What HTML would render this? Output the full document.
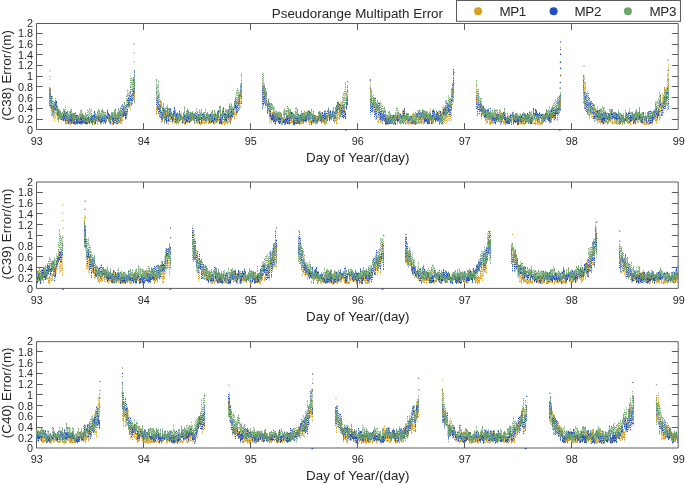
<!DOCTYPE html>
<html lang="en"><head><meta charset="utf-8"><title>Pseudorange Multipath Error</title>
<style>html,body{margin:0;padding:0;background:#fff}svg{display:block;will-change:transform}</style></head>
<body>
<svg width="685" height="485" viewBox="0 0 685 485">
<rect width="685" height="485" fill="#fff"/>
<path d="M36.5 23.5H678.2V129.5H36.5ZM36.5 119.5h6.4M678.2 119.5h-6.4M36.5 108.5h6.4M678.2 108.5h-6.4M36.5 97.5h6.4M678.2 97.5h-6.4M36.5 86.5h6.4M678.2 86.5h-6.4M36.5 76.5h6.4M678.2 76.5h-6.4M36.5 65.5h6.4M678.2 65.5h-6.4M36.5 54.5h6.4M678.2 54.5h-6.4M36.5 44.5h6.4M678.2 44.5h-6.4M36.5 33.5h6.4M678.2 33.5h-6.4M143.5 23.5v6.4M143.5 129.5v-6.4M250.5 23.5v6.4M250.5 129.5v-6.4M357.5 23.5v6.4M357.5 129.5v-6.4M464.5 23.5v6.4M464.5 129.5v-6.4M571.5 23.5v6.4M571.5 129.5v-6.4" fill="none" stroke="#5c5c5c" stroke-width="1"/>
<g fill="none" stroke-linecap="round" stroke-linejoin="round" stroke-width="1.3">
<path stroke="#d9a01f" stroke-linecap="butt" stroke-width="1.0" stroke-dasharray="2 .4 1.2 .5 2.7 .4 1.6 .5" d="M57.5 119.9v-9.1m1 3.2v8.6m1-3.8v-7.4m1 1v7.6m1-1.1v-5.2m1 2.7v5.2m1-.7v-6.8m1-1.8v7m1 4.9v-7.9m1 1.1v6.9m1-.3v-1.9m1-2.1v4.2m1 .1v-4.3m1-2v6.7m1-.3v-5.7m1-3.1v8.2m1 .2v-9.5m1 .1v10m1 0v-3.8m1-3.7v7m1 .2v-6.4m1-2v6.5m1 1.6v-5.5m1-1.6v7.4m1-.3v-7.9m1-.1v8.1m1-1.4v-8m1 4.8v4.6m1-.5v-6.4m1-.7v3.5m1 2.1v-4m1-1.5v6.5m1-1.6v-3.1m1 .5v4m1 .9v-2.9m1-2.4v5.4m1-3.8v-4.7m1 4v5.6m1-2.1v-8m1 3.6v2.9m1 3.2v-5m1-4v6.3m1-.3v-5.2m1 3.1v5.1m1-1v-5.6m1-2.3v5.6m1 2.5v-5.9m1-1v4.9m1 1v-4.4m1-1v3.5m1-2.1v-4.4m1 3.8v3.1m1 1.9v-6.7m1 .3v7.1m2 .9v-6.4m1-1.8v7.7m1-1.2v-7.1m1-2.6v6.6m1-1.2v-5m1 4.2v5.1m1 .3v-7m1-3.3v5.6m1 4.6v-6m1-1.9v9m1-3.5v-9.9m1-4.3v8.3m1 .5v-5.8m1 1.5v8.5m1-3.3v-5.5m1-1.5v6.2m1-8v-6m1-.3v7m27 6.6v-9.1m3-.6v7.6m1-4.9v-8.4m1 11.5v9.7m1 1v-8.9m1-4.3v6.7m1 2v-8.1m1 1.2v5m1 3.9v-8.1m1 4.4v7.6m2-1.8v-8.2m1 .5v8.4m3 .1v-5.2m1 1.3v5.5m1-4.4v-4.6m1 .1v6.8m1 1.5v-7.2m1 1.7v7m1-2.7v-4.3m1-2.9v6.4m2 2.6v-7.8m1-1.4v9.5m1 .8v-5.1m1 .7v4.6m1-2.3v-4.5m1 1.7v4.3m1-1.6v-5.8m1-1.4v4.7m1-.1v-7.5m1 .1v9.4m1-2v-7.6m1 .5v7.1m3 2.5v-6.9m1 2v6.4m1-1.3v-7.6m1 1.6v5.2m1 3.3v-3.8m1-3.8v5.9m1-.1v-6.2m1 1.8v4.6m1 .5v-2.6m1-1.2v3.2m1 0v-5.4m1-1.1v4.6m1 2.4v-6.4m1-3.1v7.2m1 2v-3.9m1-1.9v4.7m1-3.4v-5.9m1 2.6v6.9m1 1.8v-9m1-1.4v8m1 .4v-5.2m1-1.2v6.3m1-1.3v-4.3m1-.7v4.2m1 4.2v-4.3m1-.2v4.4m1-.1v-4.5m1 1.2v2.7m1 1.4v-4.7m1-.5v3.9m1-.7v-6.1m1-.1v7.8m1-2.1v-6.4m1-3.3v9.1m1 2.2v-8.4m1-2v7.2m3-2.1v-7.9m2-4.3v9.7m31-6.7v-8.4m5 10.4v9.2m1 .4v-9.6m1 3.8v8.3m2-2.1v-8.6m1-.7v7.9m1 0v-7.2m2 .9v9.3m1 1.4v-8.2m1 2.9v4.2m1-3.7v-3.3m1 .2v4.9m1 .9v-4.8m1 1.6v4.5m1 0v-7.2m2-.8v8.9m1-1.1v-5m1-5.2v7.8m1 1.6v-6.8m2 2.2v5.6m1 0v-6.2m1-1.8v8.4m1-1.3v-5.6m1 1.4v5.4m1-.5v-4.9m1-.3v5.8m1-.3v-4.4m1-3.2v7.4m1 .1v-7.2m1-6.3v8.6m1 3.5v-5.7m1 1.5v4.6m1-2.6v-6.5m1 1.6v7.3m1 2.3v-4.2m1-1.2v4.5m1-1.1v-7.6m1 1.9v5.8m1 .6v-6.4m1-2.2v5.5m1 1.1v-7.3m1 1.1v6m1-.2v-4.6m1-.7v5.7m1-.4v-5.7m1-1v7.1m1 2.2v-8.2m1-.6v7.9m1-.5v-5.8m1 1.1v7m1-.4v-6.1m1-3.5v6.7m1-1.8v-5.3m1-1.2v4.8m1 3.4v-5.5m1-.5v4.7m1-.9v-6.5m1 .3v4.8m1 1.9v-2.8m1-1.4v4.6m1 1.4v-8.4m1 4.4v6.7m1-4v-9.6m2-.6v9.8m32-19.9v-9.7m8 21.1v9.4m1 1.7v-8.4m1 .8v7.4m1-1v-5.7m1-2.6v6.4m1 1.5v-5.6m1 .5v7.7m1 1.4v-6.5m1 1.9v3.9m1-4.6v-3.7m1-1.1v4.2m1 3.2v-5.2m1-2.1v6.6m1 2.2v-4.3m1-5.2v7m1 .6v-4.6m1-2.5v5.5m1 .7v-5.8m1 3.2v5.7m1-2.1v-6.5m1 5.6v3m1 .5v-4.5m1-3.7v5.1m1-7v-4.7m1 2.7v7m1 2.8v-6.9m1 3.6v6m2-.7v-5.7m1 .5v5.5m1-.9v-5.3m1 2.6v3.5m1-4.8v-4.6m1-1.4v7.3m1 1.1v-5.3m1 2v5.9m1-.4v-4.8m1 3.1v1.4m1 .4v-5.4m1-1.7v6.1m1 .9v-6.5m1-.8v6.1m1 1.2v-5.2m1-.7v4.4m1 1.6v-7.7m1-.5v7.9m1-3.2v-9.1m1 0v7.8m1 2.5v-7.9m1 .7v8.5m1-2.6v-9.7m2 4v8.7m1 .4v-8.6m1-.6v8.9m1-3.9v-4.2m1 3.1v4.3m1-2.5v-3.9m1-.8v6.3m1-4.2v-7.2m1-.3v7.1m2 3.9v-8.9m39-10.7v9.3m3 5v-6.4m1-1.3v8.2m1 4.2v-8.4m1 6v5.3m1-.9v-7.3m1 .9v3.8m1 4.2v-5.9m1-.7v7m2-1v-8.2m1 3.9v4.7m1-5.6v-4.6m1-1.5v4.8m1 2.9v-5.4m1-3v6.4m1-.6v-4.5m1 3.8v5.2m1-4.8v-6.8m1 5.8v5.6m1-.2v-6.7m1 5.7v4.3m1-1.3v-6.3m1 1.1v6.4m1-1.2v-5.6m1-1.2v4.1m1 2.7v-8.4m1 3.3v3.8m1-3.9v-3.8m1 4.2v3.9m1-2.5v-3.1m1 1.2v5.6m1-2.5v-3.9m1-2.1v6.1m1 .8v-9.4m1 1.9v8.7m1 1.5v-9.3m2-.3v8.6m1 .1v-6.9m1-.1v7.4m1-.5v-5.8m1 .2v6.7m1-1.4v-6.1m1-.8v5.6m1-.5v-6.2m1 1.7v5.1m1-.5v-6.9m1 3.6v5m1 0v-1.1m1-3v3.8m1 .5v-1.3m1-.8v2.5m1 .4v-5.1m2-3.4v8.8m1-.8v-7.8m1-.3v8m1 .9v-4.1m1 1.2v2.7m1-.8v-8.5m1-2.1v7.9m1-1.1v-5.8m1-1.7v2.7m1 2.3v-4.7m1 .2v6.5m1 .5v-5.6m1-1.7v6.6m1 2.1v-7.5m1 2.7v5.6m1-5.4v-9.4m1 7.1v4.6m1-1.6v-5.9m1-2.8v7.1m1-3.9v-5.7m1 2.4v4.6m2-3.5v-9.1m30 8.4v9.9m1-4.8v-9.9m6 9.8v5.8m1 3.4v-6.6m1-2.7v7.2m1 1.2v-9.1m1 4.9v5.5m1-1.5v-6.1m1 1.2v6.1m1-3.4v-8.6m1 7.2v4.9m1-.8v-3.4m1-2.5v5.2m1 2.4v-4.2m1-5.6v7.6m1-.9v-6.7m1 .2v7.2m2 2.1v-5.3m1 3.2v1.4m1-.2v-6.3m1-.1v6.1m1 .6v-9.4m1 4.1v6.1m1-.5v-9m1 0v5.6m1 2v-2.4m1 .2v2.4m1 1.8v-3m1-3.7v5.3m1-.1v-4.7m1-9v9m1 3v-8m1 2.5v7.9m1 .2v-5.8m1-1.5v5.4m1 2.6v-7.3m1-2.3v6.3m1-.7v-6.1m1 .3v8m1 .7v-8m2-4.5v9.7m1 2.1v-9m1-.5v9m2-.4v-6.6m1 .9v5.2m1 2.6v-5.1m1-2.6v7.6m1 1.1v-8.2m2 1.8v5.9m1-.5v-4.1m1 .2v4.8m1-.3v-5.6m1-4.3v9.5m1-.9v-7.7m1 .9v7.8m1-3.9v-5.1m1-3.7v5.8m1 3.8v-6.8m1-.2v9.2m1-3v-9m1-4.1v9.1m1 3.8v-9.4"/>
<path stroke="#d9a01f" stroke-linecap="butt" stroke-width="1.0" stroke-dasharray="1.2 .9 .8 1.3 1.6 .8 .9 1.5 1.1 1" d="M49.5 102.9v-14.7m1 2.3v12.8m1 8.1v-12.6m1 7.2v10.9m1 0v-13.2m1 5.2v11.8m1-2.8v-10.6m1-2.4v11.4m55 7.6v-10.6m19-14.7v11.8m1-4.4v-10.4m1-1.7v10.7m1-4.8v-15.8m1-.9v20.5m23 7.3v-10.6m1 2v10.7m10 11.6v-10.6m3-1.7v10.9m1 .6v-10.9m9-.4v10m13 1.7v-10.6m1-.6v10.5m37-6.2v-11.1m1 .3v10.7m2-1.9v-11.5m2-3.5v13.5m1-8.9v-11.6m1-1.8v19m1-2.6v-18.3m1-14.4v22.8m21 4v-19.7m1 2.6v19m1-6.6v-14.8m1 11.4v14.4m1-5v-12.2m2 8.4v13.6m1 10.4v-14.4m1-1.8v15.2m1 .4v-10.1m4-2.4v11.2m4 .6v-11.1m9 .7v12.9m5 .4v-11.4m45-5.9v11.2m2-3.3v-14.1m1 3.3v13.5m1-1.6v-10.6m1-6.1v17.2m1-2v-11.8m1-5.6v10.6m1-3.9v-12m1-7.1v11.7m23 .3v-18.3m2 22.3v12.1m1-6.5v-12.8m1 6.2v13.4m1 5.8v-10.4m1-3v13.6m1 2.3v-14.8m1 3.3v12.7m28 .1v-10.4m24-4.5v12.7m10 .4v-11.2m2-3.4v13.1m1-1.1v-14.5m1 4v15.2m1-3v-12.1m1-.2v15.8m1-2.5v-13.7m1 1.2v10.7m1 1.1v-13.2m1-3v13.8m1 1.8v-21.2m1-11.3v16.9m1-6.7v-21m23 11.3v16.6m1-2.3v-13.1m1 4.4v12.5m1 5.3v-11.2m2 2.8v12.3m1-.4v-10.4m9 8.4v10.6m28 .3v-10.8m17-.1v10.6m22-10.2v-10.8m2-5.7v12.8m23-14.1v-17.1m1-1.8v23.3m1 5.8v-15.3m1 2.1v13.2m1 8.4v-10.7m1 .8v11.5m3 1.4v-10.6m1 .1v11.6m1-1v-12.8m1 3.1v10.9m1 1.8v-13m16 5.2v11m24 .5v-11.5m4-2.3v10.4m6 3.8v-12.5m15-6.1v12.2m1-2.8v-13.6m1-8.6v13.6m1 6.5v-18.5m1-6.9v21.1m1-2.2v-17.4m1-2.1v17.1m1-12.6v-19.3m1-9.2v26.9"/>
<path stroke="#d9a01f" d="M49.8 70.9h0m.1 8.4h0m.2 9.1h0m510.1-6.2h0m0 6.1h0m0 7h0m.2-41.7h0m0 7.9h0m0 6.5h0m.1 6.8h0m.1-27.6h0"/>
<path stroke="#1d4fc2" stroke-linecap="butt" stroke-width="1.0" stroke-dasharray="2 .4 1.2 .5 2.7 .4 1.6 .5" d="M53.5 111.5v-7.2m1-2.2v8.4m1-.2v-10m1 .7v8.1m1 6.4v-8.2m1 2.1v7.6m1 .7v-7.3m1 4.5v4.4m1 .8v-3.3m1-1.2v3.2m1 2.1v-7.6m1-2.8v9.9m1 1.1v-9m1-.7v8.5m2 3.4v-9.7m1 2.3v5.6m1-.5v-7.4m1 .5v8.6m1-.6v-9.5m1 1.4v9.6m1 .2v-9.4m2 .1v9.5m1-.6v-9.3m1 2.9v5.9m1 .7v-4.7m1-2.7v7.6m1 .3v-9.7m1-.5v9.1m1-.1v-7.5m1 2.3v5.3m1 .9v-6.2m1-.3v6.2m1 .3v-6.5m1-.8v5.2m1 1.6v-4.9m1-1.1v4.1m1 .5v-6.8m1-.2v8.2m1-1.7v-7.3m1-3.6v8.7m1 4.2v-7.9m1 .2v4.9m1-1.7v-3m1 .2v4.6m1 .2v-5.2m1 .9v6.4m1-1v-4.4m1-2.6v6.4m1-1.1v-4.8m1-.7v6.9m1 1.7v-5.5m1-2.8v4.8m1-1.5v-9.6m1 3.5v4.9m1 2.6v-5.9m1 4.9v5.1m1-5v-4.3m1-2.5v8.2m1 3.8v-9.1m3 .3v7.9m7-6.8v-10m1 2.3v6.5m1 3.2v-7.7m3-13.5v9.1m37 13.7v-8.2m1 3.1v8.5m1-6.9v-9.5m1 7.3v7m1-5.3v-8m1-.3v8.2m1 2.7v-7.3m1 2.6v7.4m1-2.1v-8.9m1-3.6v8.5m1 7v-8.3m1-.9v9.5m1-3.1v-7.6m1 1.9v5.5m1-3.5v-5.4m1 4.1v4.6m1-.4v-3.8m1 2.2v5.6m1-5.2v-3.9m1 1.2v5m1 3.8v-7.2m1-2.3v7.5m1 .1v-9.1m1-2.4v9.6m1 2.7v-8.9m1 .2v7.9m1-3v-4.3m1-1.4v3m1 2.4v-3.8m1-1.3v5.1m1 .1v-3.7m1 .5v5.6m1-.6v-5.1m1-1.5v7.3m1 2.6v-7.7m1-2.9v6.6m1 3.5v-6.5m1-3.3v5.5m1 .7v-6.3m1 1.9v4.8m1 1.1v-5.4m1-1.1v5.8m1-1.5v-7.1m1 2v5.2m1 3.7v-8.2m1-1.1v5.8m1 3.6v-7.5m1-.3v6.9m1 1.6v-4.9m1-5v6.5m1 .1v-6.7m1 2.7v4.6m1-.1v-9.6m1-1.1v7.6m1 6.1v-5.3m1-4.4v8.8m1 .7v-6.2m1-6.4v8.6m1-3.7v-8.9m1 5.7v7.4m1 .3v-7.4m1 1.1v7.3m1-4.6v-5.2m1-2.3v8.9m3-1.4v-9.1m1 3.8v5.7m1-2.4v-6m1-4.8v5.4m1-1.5v-9.3m4-4.9v9.5m28 10.2v-9.5m3 6.4v7.6m1 1.9v-4.8m1-1.2v6.1m1 2.2v-9.7m1-.1v8.9m1 3v-8.3m1-1.1v5.8m1-1.1v-6.6m1 3.3v6.4m1 1.2v-6.9m1 1.1v5m1-4.3v-5.3m1 6.4v4.5m1-1.4v-3.8m1 .3v5.1m1-.2v-6.1m1-4v7.8m1 2v-8.6m2-1.3v10m1-5.7v-7.4m1 .8v6.2m1 .8v-5.6m1 1.9v9.8m1 .1v-8.8m3 1.1v6.2m1-.5v-9.4m1 2.9v7.7m1-2.8v-7.7m1 .5v6.2m1 .9v-8.5m1 1.7v7.2m1-.6v-5.6m1-.1v5.9m1-.6v-7m1-.7v5.1m1 1.3v-9m1 .3v7.5m1 .3v-6.5m1 9.2v3.8m1-3.9v-5.4m1-.5v6.7m1-.9v-6.2m1 2.1v3.2m1 3.3v-3.8m1-.5v4.4m1-3.8v-4.2m1-4v7.1m1 2.2v-7.5m1 3.1v5.3m1-3.3v-6.4m1 2.5v6.7m1-1.7v-8.8m1 2.3v6m3-3.7v-7.9m1 6.8v6m1-3.1v-7.1m1 4.7v4.4m1-2.3v-6.2m4-5.8v9.4m1-3.7v-8.9m1 .4v6.9m1 3.2v-8.5m2 3.5v7m4 4.8v-7.7m1-9.6v7.8m1-4.6v-7.9m25 6.3v8.2m8 8.1v-9m3 .1v9.7m2 4.1v-8.7m1 2.2v5.9m1 .3v-6.7m1 1.5v5.3m1-.6v-7.4m1-1.1v8.5m1 .3v-7.2m1 0v5.8m1-1.7v-5.8m1 .8v8.1m1 .7v-5.7m1-2v3.3m1 1v-6.7m1 4.2v2.5m1-1.7v-5.3m1-.6v4.5m1 .9v-4.2m1 2.1v5.6m1-6.1v-6.1m1-2.2v8.4m1 4v-5.7m1-1.4v6.2m1-.7v-5.5m1 4.2v4.6m1-1.7v-4.6m1 .2v4.2m1 3.8v-7.8m1 1.7v5.6m1-.1v-3m1-1.1v2.7m1 2.3v-3.6m1-7.7v4.7m1-.7v-3.9m1-1.1v4.3m1 3.2v-7m1-.3v6.1m1-2v-4.5m1-.6v5.3m1 .7v-7.2m1 4.1v8.3m1-.9v-9m1 2v7.6m1 1.8v-6.9m1 1.6v5m1 .2v-9m1-2.1v6.9m1 4v-6.9m1-6.5v9.1m1-3v-7.8m1 2.4v9.1m1 1.4v-6.5m1-1.8v7.1m1-1.7v-7.2m1 2.5v7.6m1 2.8v-7.8m1-5.7v9.4m3-4.7v-7.1m1-1.1v8.4m1-.8v-9.6m3-1.8v8.7m34 1.2v-6.6m1-1.1v8.2m1 3.6v-8.8m1 1.3v7.5m1-2v-5.4m1-.7v5.7m1 1.3v-8.2m1 3.7v7.2m2-1.4v-4.7m1 2.2v5.3m1-.3v-4.8m1 2v5.2m1 1.2v-6.7m1-2.7v7.2m1-1.6v-6.2m1 .2v7.3m4-1.9v-6.2m1-1.2v7.1m1 .9v-8m1 4.3v5.9m1 .6v-3.6m1-3.3v8.1m1-.4v-5.8m1 0v6m1-2.1v-8.1m2-1.4v5m1 7v-8.8m1-.4v6.9m1 .8v-6.3m1-3.1v8.4m1 3.2v-7.3m1-2.2v8.4m1-2.1v-5.9m1 .7v5.4m1 .2v-7.5m1-1.2v4.1m1 3.5v-3.9m1-3.4v5.6m1 3.6v-9.5m1 1.6v7.1m1-3v-6.4m1 3.1v7.9m2 .3v-6.8m1-.1v6.9m1-2.7v-4.5m1-8.8v6.5m1 4.5v-6m1-4.1v7.6m1 .8v-7.7m1 3.3v8.1m1-1.3v-5.7m1-1.8v4.4m1 1.6v-3.7m1-.6v5.2m1-1.6v-4.2m1 3.8v5.1m1-1.2v-4.9m1-3.1v6.5m1-1.2v-8.9m1 3.4v7m1 1.2v-7.1m1-1.4v9.9m2-6v-8.4m2-.5v9.7m2 1.4v-10m1-3.4v8.9m34-3.2v-9.8m6 9v6.5m1 .3v-6.5m1-.3v9.7m1-2v-8.4m1 4.7v5m1 3v-9.7m1 1.3v8.5m1 1.7v-7.8m1-4v9.4m1-2.8v-7.7m1 2v5.9m1 .7v-4.3m1-2.4v5.7m1 1.5v-6m1-2.3v6.6m1-3.6v-5.4m1 3.8v5.6m1-.9v-5.8m1 .2v6.8m1-.1v-7.1m1 1.1v7.4m1-1v-5.4m1-1.4v6.1m1 4.6v-9.3m1 4.1v5.5m1-3.6v-5.8m1 2.8v4.8m1-.3v-5.7m1 2.8v5.2m1-3.1v-4.5m1-3.7v7.4m1-2.3v-3.8m1-1.5v7.2m2 2.3v-6.9m1 .9v5.1m1-1.8v-7.5m1 5.6v6.5m1-2.2v-7.4m1 3.8v5.2m1-3.1v-7.1m1 .2v6m1 .1v-5.1m1-2.3v7.8m1 .8v-5.7m1 2.5v5.6m1-.4v-6.2m1-4.2v5m1 3v-4.3m1 .3v4.5m1 2.4v-6.1m1-4.5v5.4m1 3.2v-9.9m4 2.9v8.2m1-3.4v-8m1-1.2v9.7m2-4.7v-7.7m1 4.6v7.1m1-2.6v-7.1m8-17v9.4"/>
<path stroke="#1d4fc2" stroke-linecap="butt" stroke-width="1.0" stroke-dasharray="1.2 .9 .8 1.3 1.6 .8 .9 1.5 1.1 1" d="M49.5 105.9v-18.2m1 1.4v18.5m1 .5v-12.7m1 7.2v12.1m15 6.6v-10.2m8 1.4v11.6m39-1.4v-11.7m1 2.4v10.4m2 .3v-11.5m1-3.9v12.2m1 1.7v-11.8m1-.6v10.6m1-5.1v-10.2m1-1.2v11.1m4 3.1v-14.4m1-4.1v11.9m2-6.7v-10.7m1-7.6v15.5m1 2.4v-11.3m1-4.6v13.2m1-5.9v-19.7m1-6.3v23.7m22 11.1v-15m1 6v13.6m1 4.2v-18.8m1 9.3v13.4m1-.2v-12.4m1 7.1v10.1m1-2.8v-13.2m1-2.9v15.6m1 3.6v-15.1m65-.8v11.4m1 4.3v-10.9m6-10.1v13.3m1-2.3v-10.9m1-2.8v11.9m2-14.5v-10.6m1 6.1v12.6m21 4.5v-23.2m1 2.2v18.4m1-2.7v-16m1 1.1v16.3m1 .8v-12.4m2 5.9v10.4m1 6.3v-12.5m19 10v10.6m7-.7v-11.8m1 2.5v10.1m30-1v-10.1m1-2.2v10.3m6 .1v-10m1 .6v11.7m1-5.2v-10.7m5-2.7v10.6m2 1.9v-13.7m1 2.5v12.9m1-2.2v-11.1m26-6.8v15.8m1-2.8v-12.8m2-1.4v11.1m1 8.3v-17.3m1-2v17.6m1 3.2v-15.7m1-2.4v10m1 4.7v-13.2m1 1.1v10.2m2 5.1v-11.2m1 6.5v10.1m2-2.4v-10.9m57 3.5v10.5m1-1.5v-11.5m4-10.9v13.4m1-1.2v-10.9m2 3.2v10.6m1-.7v-14.5m1-5v14.5m1-8.6v-18m1-14.4v24.5m23 15.5v-15.4m1 8.5v14.1m1-6.1v-15.8m1 9.9v10.2m1-2.8v-10.4m1 3.6v13.7m9-.3v-10.3m9 1.8v11.8m1 3.1v-10.7m1-1v10.4m10 1.5v-10.4m18-2.8v11.6m21-.6v-13.1m2-1.5v10.6m2 1.7v-10.4m3-1.7v12.2m1-5.8v-15.4m1-2.9v16.4m1-2.1v-16.8m23-18.2v18.1m1 14.9v-16.9m1 .5v18.3m1 1.5v-18.3m1 6.6v13.8m1-4.7v-16.1m1 4.6v11.4m2 4.2v-12.3m1 1.9v11.2m1 4.5v-10.8m1 3.6v10.8m1-3.5v-10.5m34 4.5v10.2m20 .4v-12.3m1-.2v12.7m1-.5v-11.4m4-4.8v10.4m4-5.6v-10.5m1-6.3v10.7m1 9.7v-12m1 2v10.5m1-7.8v-11m1-.2v11.9m1-.3v-11.8m2-9.1v10.7m1 10.5v-20.6"/>
<path stroke="#1d4fc2" d="M156.5 80h0m.1 8.2h0m84.9-14.1h0m.2 9.7h0m103.8 46.1h0m.7 .1h0m1.3-48.4h0m.1 9.4h0m22.7-11h0m.1 8.2h0m83.5-4.5h0m.1-11.2h0m105.4 57.4h0m.7 .1h0m.1-42h0m.1 7h0m.1-12.4h0m0-20.2h0m.1 13.3h0m.1-26.4h0m0 5.2h0m0 13.9h0m0-26.5h0m107.5 18.2h0m0 19.5h0m.1-9.2h0"/>
<path stroke="#6da56c" stroke-linecap="butt" stroke-width="1.0" stroke-dasharray="2 .4 1.2 .5 2.7 .4 1.6 .5" d="M57.5 112.5v-7m1 4.7v9.6m1-2v-8.5m1 1.7v8.2m1 0v-6.3m1-.9v5.7m1-3.1v-5.8m1 .7v7.2m2 3.4v-7.1m1-1.5v8.5m1 .5v-6.7m1-2.7v6.5m1 .9v-8.4m1-1.5v6.4m1 7.1v-9.2m1 0v7.5m1-.9v-6.7m1 2.2v4.7m1-.1v-2.5m1-.6v2.6m1 2v-4.6m1-2.7v5.3m1-3.2v-5.4m1-.9v7.5m1 2.7v-7.3m1 2.2v6m1 2.1v-7.6m1-2.7v7.1m1 2v-7.3m7 1.6v6.8m1 1.4v-5.5m1-5.4v6.6m1 .2v-5.2m1-3.2v7.2m1-2.9v-6.8m1 1.4v8.3m1 2.4v-8.4m1-2.8v8.5m1-1.6v-8m1 2.5v9.4m2 0v-9.1m1 6.5v4.2m1-6.5v-2.9m1 5.6v3.1m1 1v-4.2m1-3.2v5.8m1-2v-6.8m1-.2v6m1-.1v-5.2m1-3v9.6m1-3.7v-7.4m1 7.7v5.6m1-4.5v-4.9m1-.6v5.9m1 .9v-7.9m1-3.1v6.6m1 2.6v-6.5m1 .8v6.5m1-4.6v-7.6m1-3.2v8.9m1 2.5v-8.5m36-3.6v6.3m1 6v-7.2m2 8.5v9.3m1-7.6v-9.4m3 1v8.5m1-4.1v-3.9m1 3.6v5m1-2.2v-3.4m1 3.4v3.2m1 1.9v-5.1m1-2.1v4.3m1 1.6v-9m1 7v7.6m1-2.1v-8.5m1 .8v7.7m1-.7v-6.8m1-1.7v5.8m1 .1v-3.8m1 2v4.6m1-.5v-9.1m1-5.7v9.4m1 5.1v-7.5m1-3v8.1m1-1.8v-8.2m1 1.7v6m1 4.6v-9.3m1 .6v8.6m1 .2v-8.7m1-1v8.8m1 1v-8.3m1 2.1v8.5m1-5.7v-5.9m2-.5v9.3m1 .9v-6.6m1-5.4v9m1 1v-8m1-2.3v6.9m1 3.7v-4.8m1-2.9v8.1m1 .2v-8.4m2 1.1v7.9m1-1.8v-6.7m1 1.3v6.8m1-1.9v-4.2m1 3.2v3.5m1-.5v-9.9m1-1v8.3m1 2.4v-7.3m1-3.4v7.6m2 5.6v-9.2m2-2.4v6.2m1-5v-6.6m1-.2v9.6m1 4.7v-6.6m1-4.1v6.6m2 5.4v-6.9m1-6v5m1 2.3v-5.6m1-.6v6.2m1-3v-3.6m1-5.8v9m1 2.2v-9.5m1-1.7v7.6m1 3v-7.3m1 3.2v4.8m1-8.3v-5.9m1-4v7.6m6-10.7v-10m26 19.7v6.8m1-3.1v-5m1 .4v6.9m1 1.9v-8m1 0v7.1m1-.6v-5.3m1 2.1v9.4m2 4v-7.2m1-1.5v7.3m1 2.9v-8.5m1-1v5.8m1-1.5v-4.6m1 .6v5.1m1 2.1v-5.1m1 3.2v6.2m1-8.1v-4.9m1-1.9v8.5m1-2.3v-4.6m1-.1v5.8m2 .2v-8.5m1 1.6v8.7m1-1.3v-7.9m1 5.9v7.9m1-3.6v-7.4m1 1.9v7.1m1 .1v-7.5m3-4.2v8.3m1 5.1v-9.3m1 1.7v5.8m1 .3v-5.3m1-5.1v6.9m1 3.6v-7.6m1-.8v6.7m1 .1v-6.5m1-.7v4.7m1-1.3v-4.4m1-.1v6.8m1 0v-7.9m1 3.3v8.4m1-1.1v-9m1-2.5v7.3m1 4.1v-7.4m1-2.4v7.7m1 4.3v-6.7m1-.7v9.6m1-2.1v-5m1-1.8v4.4m1-1.7v-7.5m1 .3v6.7m1 1.6v-8.2m1 1.1v4.1m1 1.3v-2.8m1 2.4v2.6m1 1.9v-3.8m1-7.9v5.1m1 8.1v-7.5m1-1.4v5.6m1-5.5v-5.1m1 1.3v4.5m1 3.6v-4.2m1-1v3.5m1-1.3v-4.7m1-4.4v9.7m1 2v-6m1-5.6v8.8m2-2.8v-9.7m1-1.9v8.2m1 2v-6.1m1 3v8.5m34-10.6v-9.2m1 2.2v8.8m1 1.8v-7.5m1 1.2v5.1m1 2.1v-5.8m6 1.4v5.2m1 5.2v-6.9m1 4.1v5.9m1 1.4v-6.5m2-3.9v9.8m2 3v-7.3m1-1.5v6.7m1 3.1v-7.2m1-2.8v8.2m4-5v-7.4m1 2.7v8.3m1 1.7v-7.5m1 1.4v6m1-2v-6.6m1 2.7v6.6m1-1.2v-8.9m1 .9v5.6m1-1v-6.6m1 2.9v5.6m1-1.8v-6.2m1 2.7v4.7m1-.1v-4.9m1 2.6v4.5m1-1.9v-5.3m1-3v5.7m1 2.9v-7.1m1-2.4v9.6m1 2.6v-9.9m3-4.2v9.7m2 2.9v-9m1-4.3v9.6m1 .2v-8.7m1 .3v8m1-.6v-7m1 .6v6.1m1 2.4v-8.9m1 2.1v5.5m1 1.4v-6.2m1-.5v6.5m1 1.8v-7.2m1 3.5v4.5m1-1v-9.2m1 2.9v3.6m1-1.6v-4m1-3.1v3.9m1 6.8v-4.8m1-2.6v2.9m1 5.9v-4.7m1-1.5v7m1-3.4v-5.8m1 1.9v8.1m7-16.9v-9.7m1 1.2v8.5m1-11.5v-7.3m31 18.5v6.5m1 1v-6m1 .1v7m1-1.3v-5.5m1 3.1v6.8m1-.3v-7.3m1 .3v8.2m1-.9v-6.4m1-.9v7.6m1 3.9v-9.9m1-3.1v8.1m1-.9v-5.1m1-3v7.2m1 2.9v-8.8m3 5.1v6.7m1-1.6v-7.8m1 1.5v7.7m1-.2v-7.9m1 .3v5.3m1 0v-4.3m1-6.7v6.3m1 2.2v-3.5m1 4.1v4.5m1-3.7v-5.2m1 4v3.9m1-1.4v-3.4m1 2.3v3.7m1 .3v-4.8m1-4.3v4.9m1 2.4v-8.9m1 4v4.4m1-.2v-6.6m1 1v5.8m1-1.4v-5.3m1 2.9v4.2m1 1.3v-4.5m1-3.5v5.9m1 4.3v-5.2m1-3.4v7.6m1-2.5v-8.4m1 1.1v7.3m1 1.2v-5.2m1-.6v6.7m1-.2v-5.9m1-2.3v9.1m1-1.5v-8.1m1-1v6.8m1-1.7v-6.2m1 3.7v6.2m1-.6v-5.5m1-1.2v5.1m1 2v-3.5m1-1.5v3.7m1 .7v-5.5m1 1.7v4.7m1 .8v-4.8m1-3.3v3.7m1 5.7v-6.1m1-1.3v7.1m1-1.4v-6.5m1-.6v5.4m1 2.3v-5.5m1-7.6v9.8m1 .4v-9.3m1-.7v7.6m2 2.8v-9.2m1 2.5v7.5m1-6.8v-8.5m5-7.9v9.2m33 7.7v-8.6m1 1.6v6.1m1-3v-4.2m1-2.2v6.6m1-.7v-5.6m1 4.3v5.6m1 1.2v-5.5m2 .1v9.1m1 .8v-8.8m1-2.4v8.5m1 .7v-9.7m2-.6v9.6m2 4.3v-9m1 1.7v8.1m4-4.2v-9.2m1 6.3v4.7m1-7.5v-3.8m1 4v4.6m1-.4v-4.7m1 .2v5.7m1 5.7v-4.4m1-4.5v6m1-2.7v-8.2m2 2.7v7.4m1 2.1v-5.3m1-1.8v8.2m1-2v-8.3m1 5.1v6.1m1-5.2v-4.4m1 .8v6.6m1 1v-6.7m1-1.8v5.4m1-7.2v-4.6m1 4.2v3m1 1.6v-5m1 .7v6.1m1 3.4v-8.1m1-.9v5.8m1-.9v-7.4m1-1.3v9.8m1 .1v-7.4m1-.1v7.5m1-4.3v-8.1m1 6.8v9.1m1-2.8v-7.5m1-.6v5.2m1 .5v-4.1m1 3.3v4.7m1-.7v-3.5m1-1.2v2.7m1-.3v-5.3m1 .2v6.6m1 1.9v-4.8m1-3.6v3.5m1-3.3v-2.9m1 1v4.2m1 3.8v-7.9m1-1v7.6m1-7.7v-9.3m6 1.2v7.7m1-3.6v-5"/>
<path stroke="#6da56c" stroke-linecap="butt" stroke-width="1.0" stroke-dasharray="1.2 .9 .8 1.3 1.6 .8 .9 1.5 1.1 1" d="M49.5 101.1v-14.3m1 5.8v15.6m1 7.4v-19.3m1-.2v17.9m1 3.5v-17.1m1 2.3v11.6m1-6v-10.6m1 5.8v10.2m9 5.3v-13.6m22 4.5v13.3m1-1.8v-11.4m1-1.7v12.2m1 1.2v-11.8m1-1v14.6m1 1.6v-11.3m12-1.5v10.9m22-17.6v-10.4m1-5.5v10.8m1 6.4v-14.5m1-1v12.9m1-12.3v-15.9m1 1.7v15.2m1 3.2v-17.1m1-2.2v22.7m1 3.3v-28.7m22 5.2v21.2m1 3.2v-19.9m1-3.3v18.8m1 7.2v-14.8m1 12.8v10.7m3 3.4v-10.9m3-1.8v10.3m1 .6v-12.7m29 4.6v10.7m9 2.3v-13.6m10 4.4v10.9m2-2.5v-11m6 0v10.7m13-16.2v-15m1-1.2v14.5m1-.7v-11.9m1 4v14.8m1-12.3v-13.6m22-9.3v16.7m1 3.1v-18.9m1 11.1v16.4m1 3.4v-16.6m1 2.6v10.9m8 15.4v-11.2m13-.7v11.7m8 .4v-10.3m1-.5v10.5m40-.2v-12.6m5-2.6v11.5m1-7.2v-11.1m1-2.6v13.7m1 3v-18.6m1-8.9v19.4m1 4v-15.2m1-5.4v15.7m23 7.2v-19m1 .7v14.7m1 5.6v-15.3m1 3.8v13.3m6 2.2v-11.6m1 .1v11.2m1 1.9v-12m1 2.5v12m1 .4v-10.1m5 3.6v10.5m2 1.2v-10.9m5-.5v10.2m1-2.2v-12.5m1 .4v10.3m20 1.8v-10.1m1 .5v12.6m2-2.7v-10m23 4v10m1-4.2v-12m1-7.1v16.8m1-.9v-17.1m1 3.9v11.2m1-9.4v-11.3m4-7v14.5m1-.1v-19.6m23-2.2v16.6m1 8.4v-15.6m1-.6v12.4m1 6.2v-11.3m1 2v11.8m1-1.2v-11.2m15 11.6v13.1m1-.3v-11.8m52-3.5v10.7m4-2.7v-11.4m1-.5v11.9m1-3v-13m1 2.5v10.1m2-2.2v-12.5m1 2.2v12.4m1-5v-14.8m23-5v17m1 1.4v-13.7m1-8.2v15.8m1 9.6v-10.5m1-6.5v14.2m1 9.7v-13m1-.1v10.7m8 7.4v-14.2m5 .6v10.4m2 .6v-10.6m3 5.6v11.4m1-.4v-10.6m1-4v13.2m10 2.9v-12.1m37-11.3v11m1 0v-12.2m1-1.8v13.3m1-5.8v-14.2m1 4.2v10.5m3-1v-10.2m1-8.4v16.6m1 2.6v-17.6m1 .7v16.1m1 4.9v-21.5m1-10.3v20.5"/>
<path stroke="#6da56c" d="M50 88.9h0m.1-12.7h0m84-32.2h0m.2 8.9h0m0 8.9h0m.1 18h0m0-8.9h0m128.6 2.6h0m0 9.8h0m213.8 8.3h0m0-6.8h0m107.1-9.8h0m.1 9.2h0m0-18.2h0"/>
</g>
<g font-family='"Liberation Sans", sans-serif' font-size="10.8" fill="#262626" text-anchor="end">
<text x="33" y="133.8">0</text>
<text x="33" y="123.1">0.2</text>
<text x="33" y="112.3">0.4</text>
<text x="33" y="101.6">0.6</text>
<text x="33" y="90.9">0.8</text>
<text x="33" y="80.1">1</text>
<text x="33" y="69.4">1.2</text>
<text x="33" y="58.7">1.4</text>
<text x="33" y="47.9">1.6</text>
<text x="33" y="37.2">1.8</text>
<text x="33" y="26.5">2</text>
</g>
<g font-family='"Liberation Sans", sans-serif' font-size="10.8" fill="#262626" text-anchor="middle">
<text x="36.7" y="144.9">93</text>
<text x="143.7" y="144.9">94</text>
<text x="250.7" y="144.9">95</text>
<text x="357.7" y="144.9">96</text>
<text x="464.7" y="144.9">97</text>
<text x="571.7" y="144.9">98</text>
<text x="678.7" y="144.9">99</text>
</g>
<text font-family='"Liberation Sans", sans-serif' font-size="13.4" fill="#262626" text-anchor="middle" x="357.8" y="162.1">Day of Year/(day)</text>
<text font-family='"Liberation Sans", sans-serif' font-size="13.4" fill="#262626" text-anchor="middle" transform="translate(11.2 75.4) rotate(-90)">(C38) Error/(m)</text>
<path d="M36.5 182.0H678.2V288.4H36.5ZM36.5 278.5h6.4M678.2 278.5h-6.4M36.5 267.5h6.4M678.2 267.5h-6.4M36.5 256.5h6.4M678.2 256.5h-6.4M36.5 246.5h6.4M678.2 246.5h-6.4M36.5 235.5h6.4M678.2 235.5h-6.4M36.5 224.5h6.4M678.2 224.5h-6.4M36.5 213.5h6.4M678.2 213.5h-6.4M36.5 203.5h6.4M678.2 203.5h-6.4M36.5 192.5h6.4M678.2 192.5h-6.4M143.5 182.0v6.4M143.5 288.4v-6.4M250.5 182.0v6.4M250.5 288.4v-6.4M357.5 182.0v6.4M357.5 288.4v-6.4M464.5 182.0v6.4M464.5 288.4v-6.4M571.5 182.0v6.4M571.5 288.4v-6.4" fill="none" stroke="#5c5c5c" stroke-width="1"/>
<g fill="none" stroke-linecap="round" stroke-linejoin="round" stroke-width="1.3">
<path stroke="#d9a01f" stroke-linecap="butt" stroke-width="1.0" stroke-dasharray="2 .4 1.2 .5 2.7 .4 1.6 .5" d="M36.5 281.2v-8m1-1.5v8.4m1-1v-8.7m1 2.4v9.5m1 1v-7.6m1-3.7v9.4m1-1.1v-8.4m1 2.7v8.4m2-4.4v-7.3m1 1.3v6.7m2 4.1v-5.8m1-1.7v8m3-3.2v-7.2m2-9.4v8.7m1 4.8v-9m37-4.9v8.6m2 6.1v-8.5m1 .7v7.8m1-2.5v-7.3m1 4.3v7.5m1 1.6v-7m1 3.5v4.7m1-1.8v-5.2m1 0v5.1m1-.1v-10m4 1.4v7.7m2 3.1v-7.8m1-3.3v9.4m1-.4v-7.6m1-.6v7.8m1 2.5v-8.8m1-.3v7.5m1-4.9v-5.9m1 2.5v6.6m1 2.1v-8m1-1v7.8m1 2v-8.5m1 3.2v4.8m1-.4v-5.3m1-2.3v8.9m1 .4v-5.6m1-1.3v7.5m1-1.3v-5.3m1 .5v5.6m1-2.1v-6.8m1 1.1v5.5m1-.2v-7.2m1-.1v9.6m1 .5v-5.8m1-.1v6m1-3.4v-6.9m1 3.9v4.9m1-2.3v-7.9m1 4v7.8m1-.9v-4.7m1-5.5v7.7m1 .3v-8.3m1 4.1v6.1m1-.2v-4.6m1-1.2v5.7m1 .8v-4.9m1-1.3v2.5m1 3.1v-4.4m1-2.6v6.2m1-5v-7.9m1 .7v6.9m1-.2v-4.1m1 3v6.4m1-2.5v-5.5m1-.5v5.7m1 .1v-6.5m1-1.4v8m1 4.4v-8.8m1 .4v5.6m1-.8v-9.4m1 3.8v7.8m1-7.8v-6.2m1 4.8v6.3m1-2.5v-8.8m40-8.3v8.4m1 5v-4.5m1 1.6v4.5m1 4v-9.2m3 2.4v7.2m1-5.5v-5.7m1 3.3v9.3m1-.1v-7.1m1 1.6v7.8m1 .8v-5.1m1 1.3v4.3m1-2v-5m1 3.3v3.6m1-2.7v-7m1 .2v7m1 1.6v-6.7m1 2.5v4m1 .3v-6.2m1-1.9v7.8m1-2.6v-7.5m1 2.6v8.1m1-.8v-4.8m1-.6v5.7m1-.7v-6.2m1 2v5.4m1 .1v-3m1-1.2v3.5m1 1.2v-6.1m1-.6v6.5m1-3.4v-5.1m1-4.6v7m1 1.4v-9.8m1 2.4v9.1m2 .9v-8.9m1 2.6v8.5m1-6v-6.3m1 5.3v6.1m1-.7v-4.5m1-1.1v6.6m1-2.7v-7.1m1 2.5v6m1-2.1v-6.4m1 2.1v6m1 1.2v-3.3m1-1.6v2.9m1-.6v-2.5m1 .4v4.6m1 1.5v-4.1m1 0v3.9m1-3v-4.4m1-.3v4.7m1-.4v-5.5m1-.6v5.5m1 2.9v-8.5m1-1.2v8.2m1 1.1v-7.1m1 .8v7m1 .9v-9.5m1-2.5v8.8m1-.8v-7.4m1-3v5.8m1 5v-4.5m1-3.3v6.4m1-3.4v-7.6m40-2.2v9.6m1-.8v-5.5m1-.9v6.3m1 0v-4.5m1 2.3v4.5m1 6.2v-2.8m1-4.9v3.7m1-.7v-3.7m1-1.7v5.3m1-2.8v-5m1 4.6v5.7m1 2.9v-1.1m1-6.4v2.5m1 1.4v-4.6m1 4.5v3.3m1-.6v-5.7m1-1.8v6.4m1 1.1v-5.2m1-2.9v8.4m1-5v-6.8m1-.9v6.7m1 2.7v-5.4m1-.3v5.7m1 3.3v-7.9m1-.7v7.9m2 1.8v-6.7m1 1.2v5.6m1-3.5v-8.6m1 2.1v5.4m1 3.6v-4.2m1-1.2v6m1-4.7v-5.2m1-2.4v5.7m1 5.1v-7.1m1-2.2v8.6m1-3.3v-4.4m1 3v3.3m1 2.8v-5.3m1 1.7v4.3m1 .2v-7.2m1 .8v5.8m1 .4v-3m1-3v5.9m1-3.1v-7.5m1-2.8v9.5m1 1.1v-4.4m1-4.9v7m1 2.4v-4.2m1-.3v5m1 2.5v-5.9m1-2.3v6.1m1-1.8v-2.5m1 2.7v2.9m1-.6v-3.6m1-4.8v3.5m1 1v-4.2m1-.7v6.6m1 1.1v-9.1m1 4.8v6.4m2 .2v-6.5m1-1.5v7.6m1-.3v-9.1m1-1.4v7.6m1-3.8v-7.3m1-1.8v8m38-10.6v-9.6m3 11.8v8.4m2-1.1v-6m1 3.7v5.4m1 1.6v-5.9m1-1.1v8.3m1-.8v-6m1-1v9.2m1 1.9v-2.7m1-3.8v4.6m1 .6v-6.6m1 1.6v6m2 .3v-7.7m1-1.1v5.5m1 .8v-7.1m1-1.7v9.5m1-3.9v-2.9m1-1.6v4.7m2 5.3v-5m1 1.5v3.9m1-2v-5m1-3.6v6.4m1 .2v-6.2m1 3.1v4.6m1-1.5v-4.2m1-.1v5.2m1-2.1v-8.4m1 6.9v4.8m1-1v-5.9m1-.8v8.1m1 .1v-6.1m1 .7v5.9m1-3.9v-3.7m1-.6v4.8m1 1.1v-5.1m1 .8v4.1m1 .1v-6m1 2.8v4m1-1.2v-5.3m1 2.3v2.8m1 2.5v-6.9m1 2.8v4.9m1 .5v-6.4m1 .7v5.6m1-3.5v-5.3m1-3v6.9m1 0v-5.7m1 1.7v5.5m1 1.6v-5.3m1 .2v6.6m1-1.4v-4.1m1-1.4v7.1m1-.1v-5.5m1 .9v4.4m1-4.1v-7.1m1-1.7v7m1 2.4v-8.9m1 4.1v4.9m1-1.6v-7.8m1 1.5v8.1m1-2.9v-5.1m1 5.5v4.9m1 2v-6.1m1-2.5v7.3m1 .4v-6.3m1-6.9v9.4m8-28.7v-5.9m23-1.4v9.1m7 21.4v-9.5m3 9.6v9.5m1-5v-9.4m1 4.6v8.5m1-.5v-7.1m1-.2v7.5m1 .8v-4.1m1-1.3v6.4m1-.7v-3.4m1-1.1v4.6m1-.3v-4.5m1 2.4v2.4m1 .1v-7.5m1-.8v3.8m1 2.3v-6.4m1 1.5v4.4m1 2v-3.2m1-.9v4.4m1 .2v-7.6m1 1.1v6.6m1 .4v-6.9m1 3.2v4.1m1-.4v-5.6m1 2.8v2m1-.1v-5.5m1-7v9.3m1 4.3v-5.4m1-1.6v6.1m1 .3v-6.7m1-3.6v6.1m1 3.3v-5.8m1 .7v5.1m1 .8v-5.7m1-1.2v3.3m1 4.4v-3.5m2-6.9v9.5m1-.3v-7.3m1 1v6.3m1-1.6v-6.5m1-1.3v7m1-2.3v-7.2m1 5.5v7.1m1-.2v-3.5m1-2v5.2m1 .4v-3.9m1-2.5v6.5m1-4.6v-4.5m1-4.3v7m1 2.5v-6.5m1 5.5v4.6m1-.8v-7.4m1 1.5v6.3m1-.9v-7.2m1-1.1v5.7m1 1.9v-5.9m1 1.2v5.3m1-1.1v-4.4m1-3.3v4.8m1-.8v-3.5m1-6.7v7.9m1 8.2v-6.3m1-1.6v6m1-1.6v-8.3m1-3.6v8.4m3-.5v-9.9m1-.3v9.9m39 1.8v-4.5m1-.8v7.6m3 2.9v-8.8m1 .1v9.5m1-3.4v-5.7m1-1.3v8.5m1-2.7v-7.3m1 4.9v5.5m1-.8v-8.1m2 2.6v8.6m2-2.4v-8.4m1-1v7.5m1 3.3v-8.3m1-.4v7.1m1 1.3v-5.5m1-.4v6m1 1.3v-8.9m1 .5v7.8m1 1.1v-6.6m1-2.3v7.8m1-4.9v-5.6m1 3.2v7.4m1-3.2v-8.4m1 2.7v8.8m1-2.2v-7.1m1 4.6v5m1-2.7v-6.6m1 4.7v4.3m1-.2v-5.3m1-3.6v5.9m1 3.1v-5.6m1 4.9v1.1m1 .4v-4.7m1 .4v4.3m1-.8v-5m1 2v2.9m1 .3v-1.6m1-7.1v7.8m1-1.7v-8m1 6.4v3.8m1-1.7v-5.3m1-1.3v7m1-1.7v-8.6m1 6.3v5.5m1-4.2v-9.6m1 6.7v5.3m1 1.3v-4.7"/>
<path stroke="#d9a01f" stroke-linecap="butt" stroke-width="1.0" stroke-dasharray="1.2 .9 .8 1.3 1.6 .8 .9 1.5 1.1 1" d="M44.5 279.8v-11.5m3-4.9v13.4m3 3.5v-10.4m1-1.1v12.9m2-9.8v-10.3m3 2.2v11m1-5.2v-12.4m1-8.1v13.8m1 10.6v-11.1m1-7.1v16.3m1-.6v-19.8m1 1v24.1m22-39.6v-21.3m1 10.5v20.8m1 22.3v-20.1m1 .8v19.2m1 3.5v-21m1 5.5v16.3m1-6.7v-13.1m1 5.7v13.6m2-1.5v-11.5m10 8.9v10.1m1 3.1v-10.7m1 1.2v11m2-3.2v-11.5m54-4.1v15.4m1 3.7v-14.4m1-2.1v11.5m1 .2v-15.3m1-7.9v19.2m1-8.5v-10.8m1-1.5v14.7m1-.9v-14.7m1 9.3v15.6m1-12.3v-12.3m22-23.3v15.6m1 12.8v-13.6m1 1.3v12.2m1 3.9v-10.5m1-1.5v16.9m1 6v-14.8m1 4.5v19.2m1-4.1v-11.9m5 3v10.2m1-.1v-10.9m30 1.1v10.7m32-.7v-12.7m1-6.3v15.4m1-2.8v-13.3m1 .1v13.6m1-5.9v-15.8m1 1.4v18.9m1-4.5v-24.5m1 .2v24.6m1-.8v-23m1-.9v25.4m22-9v-14.7m1-.5v13.6m1 5.8v-10.4m1 3.4v13.3m1 6.1v-10.9m1-7v12.1m1 4.7v-13.4m1 4.7v11m26 5.8v-11.5m35 1.8v10.4m7-12.5v-11.3m1 2.6v11.8m1-3.5v-10.3m1-3.7v14.1m1 4.3v-15.7m1-1.1v13.8m1-5.7v-14m1 3.3v19.5m1-9.6v-16.1m1-5.7v10.6m1 6.9v-12m22-10.9v20.6m1 3.9v-18m1 5.9v11.4m1 1.7v-10.7m1-1v11m2 8.1v-12.7m1 4.8v11.8m2 2.6v-11.5m11 4.2v10.8m7 1.2v-10.7m49-10.1v17.7m1 1.2v-18.9m1-7.4v21.7m1-4.1v-20.7m1-2.4v23.8m1 .4v-13.6m1-10.7v10.5m2 .5v-18m1-11.3v16.9m22 19.5v-16.7m1 4.9v11.3m1 2.7v-18.3m1 6.6v14m1-3.4v-13.9m1 12.2v10.9m2 5.2v-10.1m1-.8v11.3m35-.4v-10.4m30-4.9v12.8m1-5.9v-11.8m3-8.9v16m1-2.9v-14m1 4.2v12.7m1-4.5v-12.9m1-13.7v14.8m1 11.8v-14.1m1-18.5v18.5m1 1.6v-26.8m23 18.1v15.9m1 8.3v-10.1m1-2.4v18m1-.5v-13.6m1 2.1v10.4m1 3v-14m1 3.5v14.9m1-5.6v-10.6m3 3.6v10.4m1 3.1v-13.3m8 6.9v10.7m2-.7v-11"/>
<path stroke="#d9a01f" d="M62.7 213.2h0m.2 7.2h0m0-15.6h0m.2 32.5h0m0 7.8h0m0-16.9h0m449.4 6.2h0m0 9.5h0"/>
<path stroke="#1d4fc2" stroke-linecap="butt" stroke-width="1.0" stroke-dasharray="2 .4 1.2 .5 2.7 .4 1.6 .5" d="M36.5 280.5v-6.7m1 2.5v6.7m1-4.3v-5.1m1 .4v6m1 4v-6.4m1-8v9m1-.2v-9m1-2v9.7m1 .9v-8.2m1 1.5v8.6m1-3.2v-6.8m1-5.1v8.9m1 .7v-8.3m1-1.3v6.6m1 3.2v-6.1m1-5.3v8.9m4 4.4v-9.9m1-5.7v6.5m1-2.9v-6.8m1-.6v5.2m1-2v-9.4m29-1.9v9m4 8.5v-8.2m1 5.8v9.6m2 2.1v-7.9m2 2.9v4.3m1 0v-6.9m1-.6v9.5m3-1.3v-5.9m1-2.2v6.8m1 3.8v-7.3m1-1.5v6.2m1 2.8v-6.6m1 3.5v6.8m1-1.8v-8.4m1 3.4v3.9m1-.1v-7.9m1 3.8v7.9m1-.3v-8.7m1-4.1v10m1 2.7v-6.1m1-4.5v7.2m1 2.4v-5.5m1-3.5v8.1m1-1.3v-7.6m1 1.9v6.5m1 3.7v-6.6m2-1.3v6m1-.5v-7.5m1 1.6v6.9m1 .9v-6.8m1-.9v5.1m1 1.7v-7.3m1-4.7v8.6m1 1.3v-3.9m1 .5v3.5m1 .6v-3.9m1 .1v4.4m1 1.5v-8.8m1-.2v7.5m1 1.3v-8.6m1 2v6.7m1-4.6v-4m1 .5v3.1m1 5.8v-5.5m1-.3v5.1m1-3v-5.1m1 .7v6.5m1 .2v-8.7m3-.9v8.1m1 .1v-7.8m1 .9v8.6m1-.7v-8.2m1-.3v9.6m2-4v-8.8m1 2v8.1m9-9.2v-9.9m1 2.7v6.4m3-14.1v-8m2 0v9.4m32 11.6v-9.4m3 4.1v8.3m4 8.2v-5.4m1 4.7v3.3m1-5.6v-3.1m1 1.6v5.2m1-.2v-6.7m1-.3v6.6m1 .4v-5.4m2-4.1v7.5m2 4v-8.5m2-1.1v8.1m1 .9v-6m1-.2v7.1m1 .1v-5.7m1-3.1v3m1 3.2v-4.2m1-1.7v7.3m1-5.7v-4.6m1 2.4v6.3m1 3v-5m1-2.4v7.3m1-.6v-9.8m1-3.6v8.5m1 1.6v-7.7m2-1.5v8.6m1-.1v-8.2m1 5.5v6.6m1-2.7v-6.8m1-3.4v7.2m1 .2v-5.1m1 2.7v8.7m1-2.5v-8.2m1-2.1v6.6m1 1.8v-7.6m1-3v5.9m1 3.3v-6.5m1 4.9v4.6m1-2v-3.3m1 0v4.4m1-2.3v-4.4m1 2.1v5.9m1-5v-5.1m1 4.4v7.1m1-2.8v-9m1 6.3v6.2m1-.3v-5.7m1-1.3v5.3m1 1.5v-8.2m1 .2v7m1-3.3v-5.8m1-3.7v9.3m3-6.6v-7.5m1 .6v8.1m40-2.4v-8.2m1 1.5v9.9m1-.7v-7.5m2 2v9.1m1 2.2v-10m1 1.8v6.6m1 .8v-6.6m1-4.6v9.4m3 .8v-8.2m1-1.8v9.9m1 1.6v-7.4m1 .4v6.3m1 2.4v-4.6m1-1.2v4.7m1-.1v-6.2m1 1.2v6.5m1 .9v-4.3m1-.4v5.2m1 1.5v-4.4m1-4.1v8.3m1-.4v-5.2m1-4.1v8.8m1-1.3v-9.7m1 .6v10m1 1v-9m1 2.7v4.1m1 3v-5.3m1 .4v4.5m1-.8v-7.2m1-3.7v6.8m1 3.3v-7.6m1 .2v7.8m1-5.5v-4.7m1-2.5v5.6m1 4.1v-5.9m1-.4v4.7m1-.1v-5.8m2 2.7v8.6m1-1.3v-5.9m1-2.4v5.4m1-4.1v-4.6m1 3.7v4.1m1-2v-2.6m1-1.8v3.9m1 4.4v-7.7m1 3.9v5.8m1-2v-6.5m1-2v8.8m1 1.5v-9.8m1 1.2v9.8m1-2v-9m2-3.3v9.8m1 5.5v-9m1 .4v9m1-4.5v-6.7m1-2.4v4.9m1 3.6v-6.6m1-2v9.4m1 1.3v-6.6m2-2.6v7.9m12-20.3v-6.1m30 8.2v8.9m1 3.6v-7.6m1-5.2v9.2m1 3.1v-8.4m1 4v7.6m1 .2v-6m1 .2v3.8m1 2.1v-6.7m6-1.6v7.3m1 2.6v-5.2m1-1.7v8.3m1-2.3v-5.8m1 .4v5.5m1 5.4v-5.4m1-3.2v8.2m1 .1v-6m1-1.6v6.8m1-.2v-6.3m1-6v7.7m1-.5v-4.2m1 .7v4.9m1-.4v-5.8m1 2.2v6.3m1 1.9v-8.7m2 .8v9.3m1-3v-7.4m1-4.2v9.8m1 1.3v-8.3m2-.7v7.5m1 1.2v-7.4m1-.9v8.2m1-.3v-6.5m1 3.9v6m1-1.2v-4.5m1-.1v6.9m1-5.9v-4.7m1 .1v4.4m1 4.3v-7.8m1 2.5v6.4m1-2v-7.9m1-.4v8.4m1 1.3v-7.2m1 1.9v6.1m1-.5v-4.2m1-6.6v6.9m1 2.4v-7.5m1-2.7v8.5m1-2.5v-4.7m1 4.6v4.8m1-1.6v-6.4m1-1.5v8.4m1-.3v-9m1-1.2v8.5m1 .8v-7.7m1 2.5v8.1m1-6.6v-8.5m1 2.6v8.7m1-5.2v-5m1-3.8v6.8m1 .7v-8.3m1-2.2v9.5m1-.8v-9.2m1-3.3v8.7m37 0v-8.7m2 6.7v8.3m1 .8v-9.4m3 2v8.8m1 2.9v-9.8m1-1.6v8.3m1 2.1v-6.2m1 3.5v5.2m1-1.3v-5.8m1-1.6v5.1m1 4.2v-8.5m1-1.3v7.3m1 1.3v-4.1m1-1.4v4.2m1 4v-5.9m1-2.6v7.5m1 1.8v-6.4m1 .1v5.2m1-2.8v-3.9m1 .9v5.8m1 1.4v-3.4m1-2.4v3.5m1-2.3v-2.8m1-5v7.7m1 2.6v-4.7m1-4.5v7m1 .9v-5.3m1-2.1v7.6m1 1.8v-7.7m2-2.1v8.3m1 .6v-5.8m1 .1v7.1m1-3.5v-3.4m1-2v7.1m1 .1v-7.8m1 .4v6.9m1 1.6v-3.4m1-2.7v4.5m1 1.5v-4.9m1-3.3v8.3m1 2.6v-5.7m1-6.6v6.8m1-1.9v-10m1 3.5v8.2m1 3.3v-7.4m1 .6v6.4m1-1.4v-5.6m1-.7v4.5m1 3.4v-8.2m1-1.3v5.2m1 .6v-5.9m1-1.6v6.7m1 2.3v-7.5m1 0v8.4m1 2.6v-8.9m1-1.4v5.9m1 .8v-5.8m1-4.8v6.5m1 3.2v-8.9m1-1.7v8.9m1 .5v-7m1-3.1v8.4m1 1.6v-5.9m1-7.1v8m1-1.3v-6.5m45 4.6v6.8m1 3.8v-9.4m1 4.1v7.3m2-3.1v-8m1 .6v8.7m1 3.3v-8.4m1-1.3v8.6m1 1.1v-6.5m1-5.9v9.5m1 2.1v-8m1-.6v9.3m2-2.4v-9.9m1 1.6v8.3m1-.4v-5.5m2-.8v9m1-.4v-8.7m1 .6v7.2m1-.7v-6.1m1-1.1v6.5m1-.2v-9.1m1 3v7.1m1 2.7v-6.7m1-1.8v5.8m1-3.5v-4.7m1 5v4.5m1-3.4v-6.9m1-.8v8.6m1 .3v-6.8m1 1.6v4.3m1 .2v-3.9m1-2.3v4.6m1-1.3v-4.4m1 1.2v6.5m1-.6v-3.2m1-4v3.6m1 5.9v-5m1-.1v4.2m1-.5v-2.5m1-2.1v4.9m1-2.2v-5.8m1 4.5v6.3m1-4.5v-6.4m1 1.5v9.1m1-7.7v-7.2m1 4.7v6.1"/>
<path stroke="#1d4fc2" stroke-linecap="butt" stroke-width="1.0" stroke-dasharray="1.2 .9 .8 1.3 1.6 .8 .9 1.5 1.1 1" d="M52.5 270.9v-10.8m1 2.1v15.3m1 3.7v-18.2m6-11v11.1m1-.6v-12.5m1-6.9v13.1m22-9.6v-26.2m1 9.6v17.5m1 10v-18.8m1 13v14m2 4v-13.4m1-1.4v14m1 8.9v-18.7m3-.9v11.5m2 7.2v-11.4m4 1.1v10m1 .4v-12.5m20 6.9v11.7m23 .1v-11.3m1-1.4v10.6m6-1.3v-12.1m3-1.8v14.2m1 1.1v-14.7m1-.9v14.3m1-2.5v-12.5m1 .6v12.1m1 .8v-12.1m1-1.4v13.5m1-6.9v-10.5m3-.3v11.3m1-3.5v-15.6m2-4.1v15.6m2-6.8v-14m1 3.5v22.1m22-20.2v-21.9m1 3.2v29.3m1 0v-22m1 3.5v18.3m1 7.6v-13.5m1-2.4v12.7m1 8.9v-11.1m1-7.6v13.9m2 11.2v-11.8m1-5.4v16.7m2-1.9v-11.3m1-.1v11.2m1 3.9v-13.2m8-.2v10.4m2 3.2v-12.3m2 1v14m15-1.4v-10.3m28-5.7v12.3m1-2.5v-10.3m3-.3v11.1m1 3.8v-12.6m1-1.7v13m1-.4v-14.4m1 1.5v15.5m1-17v-12.2m1 7.1v18.6m1-8v-20.9m1-4v21.6m1-1.5v-21.3m1-12.7v19.5m1 6.6v-17.1m22-3.1v18.6m1-.2v-24.6m1 7.8v21.2m1 .6v-15.5m1 6v17.1m1 5v-14.7m4 7v10.4m6 8v-11.4m1-2.2v10.1m30-1.6v-10.5m15 5.6v10.9m9-3.3v-15.2m2 3.2v10.7m1 2.8v-12.9m1-1.5v11.6m1-8v-13.6m1-.2v17.4m1-.3v-16.4m1-8.3v13.9m1 5.7v-13m1-.5v12.2m1-4.2v-10.2m1 2.7v13.1m2-11v-15.4m1 9.6v17.3m22-8.5v-25.9m1 1.1v21.1m1 6.5v-21.1m1 7.5v15.2m1-4.6v-14.7m1 4.3v10.4m9 19.5v-12.7m1 .3v13.2m1 1.3v-10.6m1-5.3v11.2m1 0v-13.7m17 8.5v10.4m5-1v-12.6m36-12.2v11.7m1-6.7v-11.3m1 2.5v12.2m1 3.9v-15.9m1-.6v14.1m1-5.7v-14.1m1-5.1v18.1m1-8v-15.8m1-5.8v19.8m1 6.6v-18.4m21 10.3v14.9m1 6.7v-15.6m1-8.2v15.3m1 8.5v-17.9m1-2.5v16.4m1 1.8v-13.8m2 9.5v11.2m3-2.7v-11m1 5.4v11.7m27 2.5v-10.3m37-8.5v11.1m1 2.4v-12.8m1-3.6v16.8m1-5.4v-11.5m1-5.9v16.9m1 1.5v-22m1-8.2v18.8m1 3.5v-23.6m1 1v26.2m1-21.4v-19.2m1 5.4v20.3m23 14.8v-18m1 9.2v13.7m1-12.4v-13.7m1 6.7v10.5m1 7.1v-12.5m1-.4v10.6m1-1.7v-12.7m1 12.5v11.4m1-1.5v-10.8m1-2.8v11.8m1 1.4v-11.3m4 5.6v10.3m9 1.8v-11.3m4 1.2v10.5"/>
<path stroke="#1d4fc2" d="M62.5 289.1h0m.7 .1h0m21.8-79.9h0m.2 8.5h0m0-16.7h0m.1 25.3h0m84.7 62.7h0m.3-41.1h0m.3-10.3h0m0-9.8h0m.1 61.3h0m106-43.2h0m0-18.1h0m105.6 61.2h0m.7 .1h0m.6-43.7h0m.1-10.1h0m22.3 7.5h0m0-8.5h0m84.4 9.8h0m.1-8.8h0m106.4 3h0m0-16.4h0m22.8 9.1h0m0 10h0"/>
<path stroke="#6da56c" stroke-linecap="butt" stroke-width="1.0" stroke-dasharray="2 .4 1.2 .5 2.7 .4 1.6 .5" d="M36.5 280.7v-5.2m1-4.7v3.6m1 6.9v-5.3m1-8.2v9m1 2.7v-8.9m2 3v6.2m1-2.4v-4.7m1-5.3v8.3m1-1v-9.8m7-3.7v9.3m1-1.2v-9.1m1-2.7v10m39-2.2v-8.5m1-1.5v8.3m1 9.1v-9m1 2.6v6.9m1-.2v-6.7m1 2.2v7.9m1-.8v-5.8m1 2.3v6.5m1 .6v-7.5m1-4.3v8.5m1-2.7v-6m1 2.2v9.8m1-2.3v-8.3m1 1.2v6.4m1-.9v-8.5m1 4v5.9m1 .5v-5.1m1-3.7v7.8m1 4.5v-7.1m1-.9v7m1 3.7v-8.6m1 4.6v4.5m1-1.4v-5.6m1-3v9.8m3-3.9v-7.6m1-.2v7.4m1-1.8v-3.6m1-.6v7.2m1-2v-6.6m1-.1v5.4m1 3.1v-7.6m1 1.5v7m1 1.8v-8.3m3-5.9v9m1 2.4v-8m1-2.8v6.1m1 4.8v-7.5m1-.4v8.6m1-2.7v-9.3m1-.3v9.3m1-.6v-5.3m1-6.7v9.8m2 2v-9.2m2 .7v8.9m1-.2v-7.9m1 1.4v5.7m1 3.5v-6.7m1-.7v6.5m3-2.9v-9m1 3.8v7m1-1.1v-9.6m1 .8v7.5m1 .5v-8.3m1 1.3v7.1m2 3v-9.5m1 1.9v7.7m2-5.8v-7.9m1 .4v9.6m8-16.5v-9.7m30 8.3v8.9m1 .3v-7.1m1 .7v3.8m1 2.9v-9.3m2 7.1v8.7m1 5.8v-9m1-5.8v9.3m1 .8v-9.4m2 5.4v9.5m1-1.6v-9.3m1 2.1v7.9m1-2v-8.7m2 1.2v8.9m2-4.3v-8.2m1 2.9v6.8m1 3.3v-7.6m1 .1v6.9m1-.8v-5.7m1 1.1v4.6m1 1.9v-8.9m1 2.7v7m1-1.5v-8.2m2 1.9v9.5m2-1.3v-9.6m2 .1v8m2-1.2v-9.2m2 2.5v7.3m1-.5v-7m1 4.2v5.8m1-1.1v-3.3m1-2.5v3.2m1 1.5v-3.1m1-4.8v6.6m1-1.7v-5.3m1 3.1v2.6m1-1.6v-2.5m1 3.9v2.7m1 1.7v-4.8m1-3.4v8.8m1-2.6v-3.8m1-1v5.8m1 .9v-9.2m1-3.2v8.5m1 2.5v-8.7m1-.6v9m1-.5v-7.8m1 0v7.7m1 .2v-7.2m1 .3v6.4m1 3.6v-6.1m2-2.5v5.3m1 2.6v-6m1-2.9v7.6m2-8.6v-9.7m14-5.3v7.4m34 9.3v-9.3m2 6.6v8.5m1 .9v-8.1m1-.9v6.9m1 1.4v-5.4m1-1.8v7.4m1 4.5v-7.8m1-2.9v9.9m1-2v-6.5m1 1.7v5m1-4.6v-4.1m1 3.1v5.7m3-.4v-9.3m1-1.8v9.5m1-1.4v-8.7m1 1.1v9.5m1-.7v-5.6m1-3.5v7.8m1-1.1v-7.7m1 5.1v5.7m1 1.3v-8.1m1-2.6v8.9m1-.8v-7.6m1 3.4v7.1m1 0v-9m1-2.4v7.8m1 3.4v-7.9m1-.3v7.4m1-2v-5m1 2.4v2.5m1-.4v-6.4m1 1v4.2m1-1.8v-8.5m1 3.8v4.9m1 4.1v-4m1-6.2v7.3m1 2.2v-6.8m1-2.4v5.6m2 1.5v-6.2m1 2.2v4.5m1 2.6v-3.1m1-6.6v7.5m1 2.7v-6.1m1 2.9v3.7m1-3.3v-5.1m1 2.9v3.8m1 .4v-7.5m1-.9v7.3m1 0v-8.2m1-2.6v9.7m1-1.5v-4.7m1-.4v5.7m1-1v-6.3m1 2.2v9.8m3-6v-8.4m1-1.2v4.9m1-4.8v-5.1m1-.5v8.4m42 5.3v-6.9m1 5.4v5.7m1-2v-6.5m2-.5v8m2 1.9v-7.9m1-.3v9.8m2 .1v-8m1-.8v8.1m1-1.5v-7.2m4 0v9m1-4.4v-8.3m4 2.6v6.8m1 5.4v-8.4m1-1.7v7.2m1-1.5v-5.5m1-2.4v4.8m1 7.3v-6.1m1-4.3v7.9m1-.4v-7.1m1 3.8v4.9m1 .3v-5.2m1 .4v4.3m1 3v-5.4m1-1.1v6m1-3.6v-7.4m1 4.9v3.9m1 1.2v-5.2m1 3.4v3.2m1-2v-8.3m1-.9v8.5m1 .1v-8.7m1-1.5v7.3m1 1.9v-6m1-4v7.7m1 1.7v-6.2m1-3.9v8m1 3.9v-9.3m1 1v9.8m1-3.6v-7.7m1 1.7v8.4m1-2v-7.9m1 .3v7.6m1-1.6v-4.2m1-3v7.1m1-.2v-7m1-1.3v9.7m1 1v-6.9m1 0v4.6m2 1.7v-8.2m1 1.2v8.3m1 2.9v-8.1m37-31.6v7.2m3 5.4v-6.6m1 7.1v8.1m7 14.1v-8.1m1-4.6v6.8m1 .8v-5.6m1 4.1v3.4m1-2.4v-6m1 2.6v4.7m1-.2v-5.5m1 1v6.6m1-1.1v-8.9m1 5.1v4.2m2 3.9v-9.5m1 .5v8.6m1 .3v-7.6m1 .6v9m1-4.7v-6.9m1 3v6.8m1-2.4v-5.9m1-.8v7m1 2.3v-8.2m1 1.5v9.4m1-2.6v-7.8m1-.1v7.9m1 .7v-9m2 1.3v9.5m1-2.1v-7.3m1-3.2v8.3m1-1.5v-7.6m1 .3v7.1m2-1.3v-6.7m1 7.4v4.3m1-3.8v-3.8m1 .3v4.9m1-1.1v-5.8m1 1v5.5m1 4.3v-8.2m1 3v4.7m1-3.5v-4.6m1-.4v6.5m1-.3v-7.8m1 3.4v7.2m1-6.4v-5.7m1 3.9v4.5m1-3.7v-6.8m1 4.7v8.2m1-1v-8.1m1-1.5v7.3m1 4.5v-8.6m2-2.3v7.8m1-2.5v-6.4m1-3.3v7.7m1 .8v-6.7m1-2.2v8.6m1 4.3v-9.1m3-1.4v8.1m1-4.1v-3.5m1 1.9v4.4m1-3.5v-8.4m1 2.5v8.3m1-7.3v-7.9m40-1.7v9.9m2 5.8v-9.2m4 3v6.1m1 6.5v-7.1m1-1v6.1m2 2.9v-9.9m2-3.1v8.2m1 3.3v-6m1 2.3v3.6m1 1.9v-3.5m1-3.1v4.9m1 3.1v-6m1-1.5v7.4m1-3.3v-5.6m1-.7v5.1m1 .9v-7.6m1 1.4v6.4m1 .5v-5.6m2-.1v9m1-4.4v-5.9m1 2.4v4m1 2.5v-6m1-1.6v6.6m1 2.6v-9.9m1 1.3v6.6m1-3.2v-6.6m1-2.7v6.9m1 2v-6.3m1 1.1v3.7m1 2.8v-4.9m1 1.5v6.2m1 .3v-7.4m1-1.7v8.9m1 1.2v-8.3m1-.2v6.5m1 0v-6m1 2v7m1-4.7v-6.2m1 .7v9.8m1 0v-6.2m1-2.6v6.2m1-.7v-6.3m1-1.8v5.7m1 1.1v-6"/>
<path stroke="#6da56c" stroke-linecap="butt" stroke-width="1.0" stroke-dasharray="1.2 .9 .8 1.3 1.6 .8 .9 1.5 1.1 1" d="M41.5 279.6v-10.2m5-2.6v12.1m1 .6v-11.7m1-7v11m1-1v-13.9m1 1.9v13.9m1-1.3v-10.6m4-1.3v14.3m1-6v-15.4m1 3.7v10.3m1-10.1v-14m1-12.9v20m1 4.8v-19.3m1 3.3v16.2m1-1.1v-17.9m22-13.2v25.9m1 1.8v-23.9m1 15.2v18.4m1-4.2v-15.7m1-1.5v14.9m1 3.9v-13.1m1 3.3v16.6m1-2v-11m1 3.9v13.1m25 12.2v-10.7m1-1.1v10.1m10 2.3v-10.8m1 1.3v10.8m10-2.8v-11.6m2 2v10.2m6 2.3v-10.8m1-5.2v12.1m7 3.2v-11.2m3-5.5v10.4m3-.9v-11.2m1-.8v11.5m1 8.6v-12.5m1-12.9v13.4m1-5.8v-15.9m1 3.2v18.2m1-1.5v-11.6m2-9.7v14.3m1 4.6v-12.2m22-14.5v21m1 1.4v-22m1-6v22.4m1 3v-11.6m1 13.5v10.9m1 .5v-10.9m5 .6v13.1m5 3v-11.1m5 5.3v10.9m2-4v-11.3m10 2.2v10.5m2 2.7v-11m2-4.3v10.8m2 .5v-10.7m2-.6v10m25-2.1v-10.5m4 3.9v10.5m2-5.9v-12.5m1-2.7v11.2m1 0v-15m1 .7v12.2m1-2.5v-11.8m1 3v13.2m1 .2v-18.4m1-.9v17.8m1-1.4v-15.1m1-.4v18.1m1-7.5v-20m1 3.7v12.2m1 1.9v-11.7m23-3.7v17m1 2.4v-21m1 1.3v19.6m1 6.1v-19.7m1-2.4v19.7m1-4v-15m1 6.2v10.7m1 9.2v-13.3m1 1v10.7m1 6.5v-14.6m1-1.5v14.4m1-6v-11.4m2 6.8v11.7m12 3.7v-11.2m1-3.5v10.4m27 .7v-11.4m17-.3v10.4m1-2.4v-10.3m5-2.6v10.8m1-4.9v-15.1m1 .1v14.4m1 1v-17.1m1-.9v16.1m1-.8v-18.2m1-9.6v18m1 1.8v-18.7m1-1.3v26.5m1-11.3v-13.7m22 8.9v14.9m1-1.3v-14.1m1 4v13.6m1 1.9v-16.7m1 1.6v13.9m1-.4v-12.1m1 1.8v14.3m1-5.5v-11.9m1 7v13.1m1-.5v-13.1m4 2.5v12.3m2 6.5v-12.7m3-.2v11.7m4 1.3v-10.6m1-2.2v10.2m1 2.2v-10.6m3-4.9v10.8m1 2.4v-12.9m1 3v10.8m38 .5v-10.4m4-1.1v11.5m1-.9v-11.7m1-5.9v10.6m1 .2v-13.1m1-4v12.8m1-6.2v-11.2m1 3.3v11.6m1 5v-18.4m1-4.6v18.1m1 4v-18.5m1-3.5v17.6m1-9.6v-21.6m1-2.2v24.4m1-1.1v-24.3m1 10.2v24.3m21-5.8v-13.2m2 2.1v11.8m1 2.6v-12.2m3 11.1v10.5m1 6.3v-11.7m1-.7v10.5m1-4.1v-10.7m1 3.4v11.1m1-.2v-12.2m11 6.8v10.8m14 3.6v-11.6m6-6.6v10.6m20 4.6v-10.4m7-3.1v12m1-4.7v-11.6m7-15.4v12.2m1 1.3v-12.1m1-2.3v12.8m1 1.3v-14.6m1-3.8v13.9m1 3.1v-14.3m1-6.3v17.3m1-13.2v-21.7m1 15.1v21m23 .9v-14.1m1 1.6v18.5m1 2.4v-16.6m1 1.6v18.4m1-5.3v-13.4m1 5.8v14.1m1-5.4v-12.8m1 5.4v12.8m2 7.3v-13.5m2-1.1v10.7m1 3.9v-17.2m1 6.7v10.6m4-2v-10.8m2-.2v10.4m13 3.6v-10.9"/>
<path stroke="#6da56c" d="M192.8 241.1h0m.1-15.3h0m105.6 15.6h0m.1-10.3h0"/>
</g>
<g font-family='"Liberation Sans", sans-serif' font-size="10.8" fill="#262626" text-anchor="end">
<text x="33" y="293.0">0</text>
<text x="33" y="282.3">0.2</text>
<text x="33" y="271.5">0.4</text>
<text x="33" y="260.8">0.6</text>
<text x="33" y="250.1">0.8</text>
<text x="33" y="239.3">1</text>
<text x="33" y="228.6">1.2</text>
<text x="33" y="217.9">1.4</text>
<text x="33" y="207.1">1.6</text>
<text x="33" y="196.4">1.8</text>
<text x="33" y="185.7">2</text>
</g>
<g font-family='"Liberation Sans", sans-serif' font-size="10.8" fill="#262626" text-anchor="middle">
<text x="36.7" y="303.8">93</text>
<text x="143.7" y="303.8">94</text>
<text x="250.7" y="303.8">95</text>
<text x="357.7" y="303.8">96</text>
<text x="464.7" y="303.8">97</text>
<text x="571.7" y="303.8">98</text>
<text x="678.7" y="303.8">99</text>
</g>
<text font-family='"Liberation Sans", sans-serif' font-size="13.4" fill="#262626" text-anchor="middle" x="357.8" y="321.0">Day of Year/(day)</text>
<text font-family='"Liberation Sans", sans-serif' font-size="13.4" fill="#262626" text-anchor="middle" transform="translate(11.2 234.0) rotate(-90)">(C39) Error/(m)</text>
<path d="M36.5 341.65H678.2V448.0H36.5ZM36.5 437.5h6.4M678.2 437.5h-6.4M36.5 427.5h6.4M678.2 427.5h-6.4M36.5 416.5h6.4M678.2 416.5h-6.4M36.5 405.5h6.4M678.2 405.5h-6.4M36.5 394.5h6.4M678.2 394.5h-6.4M36.5 384.5h6.4M678.2 384.5h-6.4M36.5 373.5h6.4M678.2 373.5h-6.4M36.5 362.5h6.4M678.2 362.5h-6.4M36.5 351.5h6.4M678.2 351.5h-6.4M143.5 341.65v6.4M143.5 448.0v-6.4M250.5 341.65v6.4M250.5 448.0v-6.4M357.5 341.65v6.4M357.5 448.0v-6.4M464.5 341.65v6.4M464.5 448.0v-6.4M571.5 341.65v6.4M571.5 448.0v-6.4" fill="none" stroke="#5c5c5c" stroke-width="1"/>
<g fill="none" stroke-linecap="round" stroke-linejoin="round" stroke-width="1.3">
<path stroke="#d9a01f" stroke-linecap="butt" stroke-width="1.0" stroke-dasharray="2 .4 1.2 .5 2.7 .4 1.6 .5" d="M36.5 439.7v-7.1m1-.6v9.5m1-3.9v-8.2m1 2.5v5.5m1 3.1v-6.1m1 .6v6.7m1 1.4v-5.7m1-2.1v7.7m1-1.1v-7.6m1 .1v7.6m1 .6v-6.5m1-.3v5.9m1 .4v-4.8m1-2.6v7.8m1 1.2v-6.3m1-.9v6.4m1-2.2v-4.3m1 2.1v4.6m1-.8v-6.2m1-3v7.9m1 0v-3.8m1 3.4v1.9m1 .6v-2m1-.8v3m1-.7v-3.6m1-2.9v4.8m1 1.5v-3.2m1-2.7v7.2m1 .1v-5.3m1-1.6v6m1-.3v-3.6m1-5v7.1m1-.6v-6.9m1 2.4v6.9m1 .3v-8.1m1 4.1v4m1-.2v-6.3m2 1v5.5m1-2.6v-7.4m1 .6v8.1m1 1.5v-4.4m1-3.9v5.2m1-.9v-5.1m1-1.6v5.8m1 2.5v-8.1m1-.6v7.8m1 2v-6.6m1-3.2v8.5m1 1.9v-8.1m1 1.7v3.8m1-1.7v-6.6m1 .3v9.4m46-4.1v-7.9m2 3.6v7.6m1 2.2v-5.6m1-1.9v6.5m1-.8v-6.8m1-6v9.1m2 4.2v-8.5m1 1.6v7.4m1 .4v-8.6m1 2.9v6.6m1-.8v-4.2m1-.1v5.1m1 .4v-9.4m1 1.4v7.1m1-.2v-7.5m1 .9v6.6m1 0v-5.6m1-1.2v7.4m1-.7v-6.8m1 .5v5.6m1 .6v-1.1m1-2.6v3.4m1 .5v-8.9m1 4.8v4.1m1-1.5v-3.4m1 1.2v4.3m1-1.3v-4.7m1 2.1v2.4m1-2.2v-3.1m1-.6v4m1 3.4v-3.3m1-.7v4.3m1-2.5v-5.7m1-.6v4.9m1 .6v-5.3m1 2.4v5.8m1-.2v-6.4m1 .4v5.4m1-2.3v-3.7m1-.8v5.9m1 1.1v-5.6m1 .7v3.3m1 1.1v-4.4m1 1.7v3m1 .2v-3.5m1 .8v2.5m1 .4v-1.8m1-3.4v4.8m1-1.9v-4.8m1-5v8.8m1 2.9v-9.7m4-1.9v9.9m3-3v-9.5m1 6.3v4.7m1 3.7v-7.4m4-19.4v9.2m35 11.4v-9m1-3.5v9.7m6 6.8v-7.8m1 3.9v6.2m1 .1v-5.9m1-3.8v8.7m1-.7v-8m1-1.1v9.5m1 1.5v-5m1 .8v3.9m1 .8v-2.9m1-5.2v6.9m1-1.5v-7m1 1.7v7.1m1-.7v-6.5m1-1.2v6.3m1 2.9v-5.9m1-1v6.5m1-1.4v-8.4m1-1.8v9.1m1-.5v-8.7m1 1.4v7.3m1 1.4v-5.3m1-1.6v6.8m1 1.1v-8.1m1-3.1v7.9m1-.9v-5.4m1-.4v6.5m1 .5v-6.5m1 3.3v4.7m1 2.1v-7.4m1-.3v7.3m1 0v-6.5m1-1.2v5.6m1-3.8v-3.4m1 1.1v6.6m1-1v-5.6m1-.4v8.8m1-.4v-6.1m1-1.4v7.8m1-.6v-8.8m1 2.5v7m1-2v-4.9m1 2.9v3.9m1-1.9v-5.7m1 1.1v5.8m1-1.1v-4.9m1-3.6v6.5m1 3.9v-4.4m1-3.4v6.9m1-.4v-9.7m1 1.6v8.4m1-1.5v-8.6m1-.7v6.9m1 2.1v-5.2m1 1.1v4.2m1-2.5v-5.2m2-3.5v7.9m1-1.2v-8.8m4-.2v8.5m3-3.4v-9.2m35 .8v6.1m2 5.5v-8.2m1 5.4v9.9m1-3v-8.9m1 .6v9.3m1 2.2v-8.7m1 1.5v8.4m1-5.9v-6.9m1 3.6v6.1m1-.6v-4.9m1-1.8v7.7m1-3.4v-9.1m1 4.8v9.1m2 .9v-2.6m2-2.3v5.1m1 .4v-1.7m1-7v7.3m1-1.4v-4.2m1 .4v6.6m1-1.2v-4.5m1-1.2v6m1-.5v-7.6m1 3.8v5m1-.3v-5.6m1 2.5v2.1m1 .8v-4.7m1-.4v5.1m1-.6v-5m1-4v7.4m1 2.1v-5.6m1-2.3v7.4m1-2.1v-9.8m1 6v4.9m1 1.8v-4.1m1-3.3v5.8m1-1.7v-5.1m1-1.7v5.5m1 3.2v-5.8m1 .2v5.2m1 .4v-4.4m1-.4v5.6m2-6.1v-5.6m1 4.8v5.5m1 .6v-6.9m1 .3v6m1 1.2v-2.5m1-2v4.9m1-1.7v-5.7m1-2.2v3.9m1-.9v-8m1 4.5v9.2m1 1v-9.3m1 1.6v8m2-3.8v-6.1m1 3.3v6.4m1-2v-5.9m1-1.4v8.6m1 0v-7.8m1 .9v6.1m1-6v-8.9m1-3.2v8.7m2 6.2v-7.5m1-3.2v8.6m1-10v-7.7m1 4.7v7.6m1 2.8v-9.3m1-4.5v9.9m43 11.1v-7.1m1-.2v7.9m1-.4v-6.3m1 .3v7.4m1 .6v-6m1-1.8v7.2m1-.8v-7.3m1-2.1v5.1m1 .8v-6m1-.8v7.2m1 3.5v-7.9m1-1.8v9m1-1.8v-5.9m1 .6v6.6m1 2.3v-6.6m1 2.3v3.8m1 .3v-6.7m1 1.2v4.8m1 .2v-7.2m1 3.1v4.8m1-1.1v-7.5m1 2.4v4.9m1 .9v-5.9m1-2.1v8.7m1-2.1v-7.6m1-2v8.1m1-.6v-9.2m1 .8v6.1m1 1.2v-5.5m3 2.1v6.8m1 1.1v-6.8m1 3.9v3.1m1 .3v-1.1m1-5.1v4.2m1-.4v-5.1m1-4.5v5.8m1 5.5v-8.5m1-1.5v7.9m1 0v-6.6m1-.9v6.7m1 2.9v-7.7m1-.1v6.4m1-2.2v-5.5m1 4.3v4.5m1-.6v-5.3m1-1.8v6.9m1 1.1v-6.6m1 .8v5.7m1-.5v-4.2m1-.3v5.2m1-.2v-5.4m1 .7v5.8m1-1.5v-8.7m1 .2v6m1 4.1v-8.3m1 3.3v4.5m1-1.5v-6.7m1-.6v8.9m1-5.5v-9m41-8v6.7m1 6.1v-9.6m1-1.6v9.5m1 2.9v-6.8m1-1.4v6.4m1 3.6v-5.8m1-1.1v6.9m1 4.8v-7.3m1 2.1v5.7m1-1.7v-7.9m1 2.6v7.2m1-4v-7.6m4 .6v8.4m2 3.8v-6.8m1 2.2v4.1m1 .2v-5.3m1-.5v5.5m1 .2v-5.6m1-2.6v5.7m1 2.2v-7m1 5v2.2m1-1v-3.2m1-4.1v3.3m1 3.3v-3.6m1-1v5.6m1 .8v-7.3m1-4.6v8.5m1 .1v-8m1 4.6v5.3m1-1.3v-6.6m1-1.2v10m2-4.2v-9.1m1 7.4v7.2m1-1.2v-4.9m1 0v6m1 .2v-5.6m1-1.7v6.6m1-1.1v-8.4m1-4.5v8.2m1 1.9v-9.5m2 5.7v8.2m1-2.6v-7.9m1 3.1v4.2m1 .2v-3.1m1-1.5v3.9m1 .5v-3.9m1 .1v4.1m1 1.9v-5.4m1 .5v6m1-.3v-4.7m1-1.7v5.8m2-.2v-6.9m1-4.6v6m1-1.1v-7.1m1-.1v6.1m1-.8v-9m1 2.6v8m2 3.2v-8.4m1 .7v9.1m1-2.2v-9m1 2.4v9.9m2-13v-6.8m37 10.7v7.8m1-.9v-6.3m1-3.1v8m4 1.3v-9.5m1 2.7v6.3m1 1.8v-7.2m1-.6v5.6m1 2.2v-6.6m1 1.1v6.8m1 .5v-7.7m1 .8v4.5m1 2.6v-9.8"/>
<path stroke="#d9a01f" stroke-linecap="butt" stroke-width="1.0" stroke-dasharray="1.2 .9 .8 1.3 1.6 .8 .9 1.5 1.1 1" d="M73.5 442.9v-10.5m16-2.8v10.8m1-3.7v-10.4m1-3.1v13.7m1-5.3v-12.6m1 .4v15.4m1-4v-17.2m1 2.3v18.8m1 2.4v-18.4m1-9.5v19.5m1-8.1v-24.3m1-3.1v20.6m23 6.9v-22.3m1 3.8v17.7m1-3.1v-12.9m1 6v13.1m1 2.9v-19m1 .2v18.3m1-2.9v-13m1 7v11.2m1 10.8v-16.3m1-1.8v16m1 3.6v-13.9m1 1.1v10.4m2 1.2v-13.2m6 3.3v11.4m46 3v-10.7m1-.9v11.3m1-1.2v-11.2m2 .3v10.9m1 .6v-10.3m4-7v13.4m1-.3v-13.4m1-7.6v12.8m2-5.2v-10.8m1-1.1v16.6m1 4.2v-15.5m1-4.6v17.6m1-2.2v-20.1m24-11.4v18.7m1 5.4v-19.1m1 6.8v13.3m1 7.4v-11.1m1 1.5v12.5m1-3.9v-11.1m3 5.5v10.6m1-1.7v-12.4m1 7.4v11.7m1-.5v-10.4m1 1.5v10.6m56-3.1v-11.5m3-.1v12.3m1 .3v-11.6m1-2.6v12.7m2-.2v-12.4m1 2.2v11.5m2-6.1v-16.7m1-1.6v15.8m1-2.4v-17.2m1 1.7v13.7m1-7.2v-20.4m1 7.2v12.1m1 5.1v-19.3m23 7.5v12.2m1 10.8v-12.2m1-5.8v12m1 .7v-10.6m1-1.3v13.1m2 5.2v-12.9m13 10.3v10.5m2 .7v-11.1m28-5.7v12m13 4.7v-11.1m9-7.8v10.5m7-3v-13.9m1-2.7v16.3m1-4.7v-13.8m1-10.6v20.4m1 .2v-23.2m1 1.6v17.1m24-5.1v-23.7m1 15.3v19.3m1-4.3v-13.2m1 5.2v11.6m1 2.3v-14.3m1 10.7v14.1m1 6.5v-13.6m1-8.1v15.2m1-.2v-17.5m1 2.9v15.6m1 1.6v-11m1-2v11m1 3.9v-12m30 4.6v10.2m1 0v-10.1m31-9.2v12.2m1-.8v-14.7m1 1.3v10.5m1 1.5v-16.9m1-1.2v11.4m1-.9v-13.3m1-3v17.8m1-2.8v-17.1m1 3v22.6m1-2.4v-15.2m1-9.2v11m23-.2v-15.7m1 7.3v12.3m1 4.1v-13.3m1 .6v13.9m1 4v-12.1m1-4v11.6m1 7.6v-14.1m13 11.6v10.3m1 .4v-11.7m1-1v11.5m2 2.5v-10.4m19-2.2v10.7m10 .1v-11.3m12 3.1v10m7-2.1v-12.2m5-3.7v10.8m2-3.6v-14.2m1-4.5v16.9m1-7.7v-16.8m1-2.7v17.9m1-.3v-16.2m1-13.6v12.1m1 8v-15.4m23 2.5v24.2m1-.6v-20.3m1-8.5v21.7m1 9.9v-17.1m1 6.2v13.5m1 13.2v-16.7m1-1.2v16.4m4-3.2v-10.8m1 1.4v11.7m1 1v-13.6"/>
<path stroke="#d9a01f" d="M312.3 389.2h0m0 11.4h0m.4-21.3h0m129.5 20.4h0m0-9.5h0m.2-10.4h0"/>
<path stroke="#1d4fc2" stroke-linecap="butt" stroke-width="1.0" stroke-dasharray="2 .4 1.2 .5 2.7 .4 1.6 .5" d="M36.5 439.3v-9.1m1 1.8v6.5m1 3v-6.7m1-2v6.3m1-1.5v-5.4m1 3.9v4.8m1-4.7v-4.3m1-1.7v4.6m1 2.2v-2.9m1-3.8v4.6m1 7.9v-8.7m1 3.3v5.2m1-1.7v-4.8m1 1.2v5.1m1-6.1v-3.1m1 1.7v2.8m1 1.3v-3.3m1-1.7v5.1m1-2.2v-5.3m1 2.9v4.6m1 1.5v-4.9m1-2.5v8m1-1.8v-8.2m1 3.9v5m1-2.7v-6m1 1.4v4.5m1 2.9v-6.1m1-1.1v6.2m1-1v-9.1m1 3.5v7.1m1-.5v-7.3m1 .6v5.7m1-.7v-4.5m1-1v6.1m1 0v-5.3m1-.2v6.8m1-.9v-7.5m1 1.5v6.9m1 1.8v-5.5m1 1.7v3.8m1 .8v-4.5m1-.9v6.1m1-.8v-5.5m1 0v5.4m1-4v-3.4m1 2.1v4.3m1-.3v-4.8m1-4v7.9m2-3.8v-6.7m1-1.2v5m1-1.8v-6.7m2 1.3v8.5m5-8.6v-9.7m4 0v8.8m1 4v-8.6m33 6.6v9.1m1-3.4v-7.6m1-.1v6.2m1 2.8v-5.3m1-.8v3.7m1 8v-9m1 3.5v5.3m1-.4v-5.2m1-2.9v4.8m1-1v-4.7m1 .9v7.4m1 2.4v-9.4m1-1.6v7.1m1 .7v-6.9m1 1.7v6.8m1-.5v-6.3m1-3.2v5.2m1 3.7v-4.3m1 2.7v4m1-.5v-5.3m1-1.2v5.7m1 2v-6.2m1-1.2v8.6m1-.7v-8.8m1-2.2v8.9m1-1.7v-3.9m1-1v7m1 3.7v-8.4m1-1.9v8.2m1 2v-7.2m1-3.4v6.5m1-.3v-4.5m1-.5v6m1-2.1v-4.5m1 3.1v4.2m1-.5v-6.1m1-2v6.8m1 3.5v-8.2m1-1.9v8.4m1 1.4v-6.6m1-.1v8m1 0v-7.9m1 .2v7.9m3 .3v-8.4m1-1.1v7.7m1-1.5v-5.6m1-1.2v5.9m1-1.6v-6.1m1-1.2v7.4m1 1.7v-6.9m2-2.3v9.1m1-1v-8.8m1 1.3v7.3m1 2.4v-8.4m1-.4v4.8m1-2v-6.5m1 0v6.7m1 5v-7.5m1-.6v9.4m3-5.9v-7.8m2-8v9.4m1-4.8v-8m34 11.3v5.8m4 2.8v-7.9m1 5v5.2m1-.7v-6.5m1 3v8.2m1-2.6v-7.6m1-1.9v9.6m5-3.7v-8m1 1.5v8.3m1-.6v-5.7m1 0v5.3m1 .5v-5m1 3.9v4.4m1-2.6v-5.2m1 4.3v5.4m1-1.9v-6.4m1-.7v7.9m1-.9v-9.8m1 5.4v5.8m1-3.8v-5.5m1 .1v7.1m1-3.2v-4.7m1 1.3v5.9m1 2.4v-7.7m1-1.3v8.9m1-2.6v-7.4m1 4v5.6m1 1v-6.5m1 .9v4.6m1-.2v-8.4m1 3.9v3.9m1-.2v-5.9m1-.1v6.6m2-3.2v-4.8m1 0v4.6m1 3.7v-7.1m1 1.6v7m1-2.2v-7.6m1-3.1v5.7m1 7.3v-6.5m1-.8v7.2m1-4.4v-2.9m1-.8v6.1m1-2.2v-7.4m1 2.6v4.5m1 3.8v-6.9m1-2.1v9.8m1-1.1v-8.6m1 .1v8.5m6-4.7v-4.9m1 .2v6.7m1-4.9v-4.1m1 1v5.4m1-.4v-8.6m1-4.2v7.5m12-16.5v-7m30 21.2v6m1 3.7v-9.1m3-2v5.6m1 3v-9.9m2 2.4v8.8m1 3.6v-6.4m1-3.6v7.1m1 1.4v-6.7m1-.5v9.9m1-2.4v-10m1 3.6v8m1 2.5v-7.4m1-1.3v8.7m2-5.1v-7.1m1 0v9.4m1-2.6v-6.7m1 3.1v6.6m1 .1v-6.5m1-1.3v4.7m1 3.4v-8m1-2.5v7.1m1 2.9v-6.7m1-.5v8.2m1-1.5v-7.2m1 0v7.2m1-.7v-6.6m1-1v4.9m1 2.3v-9.3m1 5.4v5.7m1-1.4v-5.9m1 1.4v5.3m1-.5v-4.7m1-1.2v6.4m1-.1v-6.8m1 5.8v3.4m1-.1v-5.8m1-.8v6.4m1 .1v-8.2m1 .2v7m1-2.2v-7.4m1-3.7v7.4m1 2.8v-7.8m1-2.9v8.1m1 2.9v-8.3m1 1.6v6m1 .5v-4.8m1-3.5v8.1m1 0v-9m1 1.2v8.2m1 2.6v-8.3m1-4.1v9.9m2 2.5v-7.5m1-5.3v7.8m1 2v-9.7m2 1.7v8m2-.3v-8.2m1-2.4v6.6m5-5.6v-9.7m3-12.8v8.2m3-.1v-8.7m34 21.7v9.5m1-4.7v-3.9m1 2v5.9m1 1.9v-6.4m1-4.5v7.9m1 3.3v-6.5m1 2.8v5.5m1-2.3v-5.8m1 5.7v4.3m1-4v-3.1m1-1.2v5.2m1 1.1v-7.6m1 4v5.8m1 .9v-6.5m1-.4v5.6m1 .4v-5.3m1-2v6.1m1-1.1v-3.3m1-3.8v4.6m1 1.8v-6.8m1 .9v4.3m1 3.8v-5.1m1 1v3.7m1-1.9v-4.8m1-1.8v4.6m1 3.7v-5.8m1-3v6.8m1 3.2v-6.2m1-3.4v5.8m1 3.1v-5m1-1.3v8m1-3.2v-5.8m1 1v6.2m1 2.6v-8.4m2-4.7v6.9m1 1.4v-8.3m1 1v5.9m2 3.8v-5.1m1-5.5v8.4m1 2.3v-8.1m1 .7v8m1-2.4v-8.7m1 1.6v8.7m1 2.5v-8.5m1-1v8.3m1 .2v-8.6m1-3.5v8.2m1-.4v-3.2m1-2.2v9.1m1 .1v-6.6m1-.2v6.1m1-.4v-5.3m1-2.5v4.8m1 3.9v-5.4m1 1.1v5m1-.1v-5.9m1-.3v4.6m1-3v-5.6m2 1.8v7.5m3-6.7v-9.9m1 3.1v5.8m1-5v-6.1m1 1.7v6.7m34-16.9v-8.1m1 12.1v8.4m1-3v-8.5m5 12.6v9.3m2 3.6v-7.7m1-2v5.6m1 5.5v-8.4m1 3.6v5.6m1-.1v-7.4m1 1v6.5m1-3.4v-6.6m1 1.4v8.8m1-5v-7.3m1 1.4v6.6m1 1.2v-7.8m1-.2v4.7m1 1.3v-5.9m1-2.9v6.3m1 2.7v-6m1 2.8v5.8m1-2.3v-3.9m1 .7v5.3m1 .3v-5m1-2.1v8.6m1 .7v-8.5m1-2.9v9m1 1.4v-7.7m1-3.2v9.3m1 2.6v-7.7m1-.8v8.6m1-.2v-8m1-4.2v8.7m1-3.5v-5.7m1 3.1v6.2m1-1.1v-7.8m2 6.2v6.1m1-.9v-8.3m1 4.3v5.7m1-7.3v-4.6m1-.6v7m1-2.2v-5.4m1 2.4v6.1m1 3.6v-6.9m1-.3v7.1m1 1.1v-7.7m2 1.6v6m1-1.8v-5.2m1-5v6.4m1 3.9v-6m1-.2v6.8m3 .4v-9.8m1 4.7v4.7m1 .6v-9.8m1-1.2v9.2m1 .6v-7.5m1-1.9v9.5m1 .8v-8.1m1-2.2v5.3m1 .9v-9.3m1 4.1v5.8m1-3.2v-4.9m1-5.4v6.4m1 .1v-6.1m2-7.6v9.7m1-1.7v-9.9m1 6.8v8m41 6.2v-7.9m1 3.4v7.2m1-2.2v-8.8m1-.9v7.9m1 2.2v-7.1m1 6v5.8m1-.7v-7.2m1-3.6v5.8m1 1.2v-6m1-.7v6.1m1 4.2v-4.7"/>
<path stroke="#1d4fc2" stroke-linecap="butt" stroke-width="1.0" stroke-dasharray="1.2 .9 .8 1.3 1.6 .8 .9 1.5 1.1 1" d="M84.5 434.6v-10.7m4 .7v12.8m2 1.4v-12.3m1-1v11m1-5.7v-12.1m1 1.6v12.8m2-8.6v-14m1-3.8v20.6m1-2.5v-16.9m25-17.7v19.4m1-.6v-16.4m1 9.1v14.4m1-1v-17.7m1 6.4v16.1m1 .6v-12.2m1 9.3v11.3m1 3.8v-12.4m1-2.6v15.5m1 4.1v-13.9m44 8.3v10.6m1-1.5v-10.3m8-1.9v10.6m10 4.6v-10.2m1-5.3v12.2m2-8.9v-10.2m3-2.5v10.9m1-.9v-14.1m1 .3v14.5m1-4.3v-13.2m1-4.7v18.7m24-17.8v-15.3m1 5v18.7m1 6.2v-17.1m1 5.9v18.3m1 4.6v-14.1m2-.3v14m1 4.8v-10.6m1-6.6v11.1m7 4.7v-11.4m1-1.6v13.5m1 .3v-10.1m1 .9v10.2m27 .6v-10.1m17-1.9v10.8m1 .7v-10m1 0v10.4m1-1.5v-10.3m1 2.7v11.2m7-13.1v-10.3m1 2.1v11.3m1-.8v-10.6m1-2.9v13.8m1 1.6v-17m1-1.7v17.4m1 2.4v-21.1m1-6.6v19.2m1-7.9v-13.6m1-13.1v20.8m1-5.8v-14.1m24 15.2v16.8m1 .3v-18.4m1-.2v12.8m1 8.7v-15m1 5.8v10.9m1 1.8v-17.5m1 5.2v14.1m3 2.8v-10.2m1 2.7v10.1m3 .9v-10.4m10-.3v13.2m39 1.6v-11m4-3.4v11.2m2-1.7v-10.2m3-1.6v10.3m1-.2v-11.4m1-3.6v12.8m1-3.1v-10.9m2-7.8v12.4m1-4.6v-12.9m2 3.7v11.8m1 9v-16.2m2-12.9v15.3m1-6.2v-12m24 4.5v20.3m1-2.7v-14.2m1 6.7v15m1-4.9v-12.4m1 3.7v11.2m1-1.9v-12.8m1 12.8v14.5m1-3.7v-11.9m35 5.7v11.8m4-.7v-11.5m22-2.6v10.2m2 3.8v-10.6m1-2.9v12.4m5-11.4v-11.3m1 .3v15.9m1-2.2v-13.5m1-6.6v13.3m1 3.5v-16.1m1 10.3v12.3m1-6.7v-12.1m1-.8v16.3m1-9.5v-15.9m23-3.9v17.3m1-4.4v-18.2m4 20.7v13.3m1 5v-16.3m1 1.3v15.4m1-2.2v-12.2m2 5.4v10m32 7.4v-10.3m11-2.3v10.2m6-.8v-11.2m1-3.9v11.5m14-12.7v-10.1m4 3.7v13.8m1-4.1v-18.8m1-4.4v24m1 1.7v-19.4m1-.1v15.7m1-2.1v-16.2m1-12v29.3m23-9.6v-12.2m1-.5v12.7m1 8.6v-14.4m1 11.5v12.9m1-5.7v-10.7m1 4.5v11m1-2.6v-10.3m1 4.7v10.5m1-5.9v-11.1m1 2.9v12.5m1 3.1v-13.4"/>
<path stroke="#1d4fc2" d="M99.8 398h0m0 8.9h0m.2-16.3h0m0-9.2h0m22.2 11.8h0m.2-10.5h0m.1-9.3h0m82.1 32.3h0m.2-10.3h0m107.2 53.1h0m.5-47.8h0m.1-26.8h0m0 16.9h0m.1 57.8h0m0-65.5h0m105.9 17h0m.1-21.9h0m.2 11.7h0m106.5 58.6h0m.7 .1h0m.5-42.5h0m.2-9.7h0m23 6.6h0m.2-9.8h0m83-10.7h0m0 15.8h0"/>
<path stroke="#6da56c" stroke-linecap="butt" stroke-width="1.0" stroke-dasharray="2 .4 1.2 .5 2.7 .4 1.6 .5" d="M36.5 438.2v-8.7m1 .8v5.5m1-.4v-3.2m1-1.1v5.3m1 .2v-7.4m1-1.7v8.2m1 1v-8.1m1 2.7v6.9m1 .3v-8.1m1 3.9v7m1 .6v-5.5m2-5.7v6.3m1 .9v-4m1 1v6.3m1-.3v-5.8m2-7.4v7.3m1 1.7v-5.5m1 3.8v4.6m1-2v-4.1m1-1.6v5.1m1 2.2v-5.9m2-2.9v9.8m1-2.7v-6.9m1-3v6.3m1 5.6v-7.3m1 .4v8.7m1-3.9v-6m1-8.5v7.6m1 3v-6.6m2 .4v8.2m2 6.7v-9m2-4.7v9.3m1 3.6v-6.6m1 2.2v6m1-5.4v-4.6m1-1.7v6.3m1-3.4v-5.9m1 3.6v5.4m1 1v-7.3m1-2.4v8.4m1 1.4v-5.8m3-7.7v10m4-5.9v-7.8m5 2.2v9.8m1-5.9v-8.8m33 2.3v9.1m1 5v-8.5m1-3.1v5.8m1 2.1v-4.1m1-5.1v6m1 3.7v-6.7m2-1v9.4m1-2v-9.9m2 4.7v8.7m1-.5v-8.4m1 6.1v4.3m1 .9v-8.7m1-3.3v8.3m1 3.6v-5.3m1-1.2v9.2m1-1.7v-7.9m1 2v9.3m1-.8v-9.5m1-2.1v7.8m1-3.4v-5.2m1-.8v5.3m1 1.4v-5.6m1-.3v8.5m1 .4v-9.6m1 2.3v9.8m1-.1v-6.9m1-4.8v7.6m1 1.4v-6.9m1-.9v4.5m1 3v-4.2m1-3.6v6.8m1 6.9v-5.5m1-8.6v9.3m1 2.3v-6.1m1-3v6.7m1-.5v-7m1 3.7v6.8m1-1v-9.4m1 1.9v5.8m1 1.4v-9.3m1 .6v7.3m1-.8v-6.8m1 1.6v9.4m2-2.4v-9.5m1 8.1v5.3m1-1.7v-5.4m1-3.5v7.1m1-5.9v-4.7m1 .4v8.9m1 1.4v-5.8m1-8v8.6m1 1.7v-7.1m1 .3v8.9m1-3.6v-7.8m4 .4v7.1m1-1.7v-7.6m4 4.9v8.2m5-12.8v-9.5m2-3.4v9.1m38 2.1v-9.3m2 9.6v9m1-.9v-8.5m1 3.9v7.7m1 1.6v-8.3m1 2v7.4m1-.8v-7.7m1 5.2v4.7m1 2.4v-6.2m1-5.2v7.4m1 4.3v-9.6m1-3.8v7.5m1 2.4v-7m1-.1v6.5m2-.4v-8.4m1 3.2v5m1 3.5v-9.8m1 .5v8m1-1.6v-7.3m1 1.1v8.2m1-3.3v-5.2m1-.6v4.9m1 1.4v-4.5m1 .9v7.4m1-1.9v-9m1-.9v9m1 2.1v-6.1m1 1.5v6.6m1-1.2v-4.6m1-1.3v6m1-3.6v-5.4m1-.8v6.5m1-2v-3.9m1 2.7v3.7m1-2.1v-4.8m1-.4v7m1 1.6v-6.3m1 3v4.6m1-3.6v-5.6m1 5v3m1-4.3v-4.3m1-2.4v4.8m1 2v-3.8m1 1.6v5.6m1 0v-6.2m1 1.2v5.6m1-1.2v-6.4m1 .2v4.9m1 3v-5.3m1 0v4.2m1 2.5v-8.3m1-1.7v6.2m1-2.3v-4.6m1 3v6.3m1-1.3v-9.9m4-2.1v9.4m1 1.1v-7.4m1-1.3v4.5m1-1.3v-7.1m35-13.7v9.9m1 2.5v-10m7 11.4v9.9m3 4.9v-9.3m2-2.2v8.2m1-3.4v-3.9m1-5v7.8m1 2.8v-4.1m1 2.4v5m1-2.2v-2.9m1-1.2v4.7m1 .7v-6.8m1 4.2v5.6m1 .2v-5.6m1-2.7v5.8m1 1.6v-6.1m1 0v6.6m3-2.1v-9.7m2 .7v10m1 .9v-9.4m1 1.7v8.2m1 0v-7.5m1-.3v8.4m1-.7v-5.7m1-1.1v6.4m1-1.4v-5.9m1-4.6v5.8m1 3.4v-8m5 2.6v8.9m1 3.3v-8m1-6.9v8m1-1.1v-7.8m1 5.3v6.8m1-4.5v-5m1-1.8v6.4m1 .8v-8.2m1 2.9v6m1 .2v-9.4m1 5.1v8.3m1 .4v-9.4m1 .1v6.9m1-1.5v-4.2m1 3.6v4.2m1-3.2v-4.5m1-3.7v8.6m1-.1v-7.4m1 0v6.6m1-2.4v-8.1m1 5.8v8.6m1-3.5v-7.4m1 0v8.8m1-1.5v-8.8m13-17.6v8.8m32 15.3v-9.6m2 .6v8.5m1-.3v-6.6m1-2.9v4.2m1 4.4v-7.5m1 3.1v5.4m1 .1v-3.6m1 3.4v3.2m1 .3v-3.9m1-2.5v6.5m1-4v-9.2m2 5.2v8.2m1 2.7v-7.2m1-1.6v8.9m1-1v-7.5m1-4.3v7.5m1 .5v-6.9m1 .9v7m1 3.8v-9.2m1 1.9v9.4m1-2.3v-8.4m1 5.4v6m1-.4v-8.5m1-1v7.8m1-2.5v-8.5m3-.1v8.8m1-1.8v-5.3m1 3.1v4.1m1-1.4v-6.1m1-2.1v5.7m1-2.2v-7.6m1 7.1v4.2m1 2.5v-6.8m1-.9v8.4m1 0v-7.9m1 .6v6.3m1-1v-6.9m1 1.5v6.4m1 3.7v-7.7m1-4.3v10m1 1.2v-5.4m1-1.8v7.2m1-4.1v-8.1m1 5v5.8m1 1.4v-8.8m2-1.1v9m1 .4v-9.1m2-2v8.6m1 2.8v-6.4m1-3v9.5m1-4.1v-6.9m1 1.4v4.7m1 2.3v-5.6m1-5.2v6.7m1 0v-7.1m1-2.5v7.5m1 2.3v-9.1m6-3.5v9.4m1 1.6v-7.9m1 1v5.3m1-1.3v-9.1m1-5.5v9.1m36 4.8v-5.6m1 0v4.5m1 4.6v-6.6m1-1.5v5.5m1 5v-6.1m1-2.1v5.9m1 3.2v-7.9m4 1.7v7.8m1 2.3v-7.8m1 .4v6.2m1 .8v-6.8m1-.1v6.5m1 1v-7.5m1 .7v7.8m1-2.2v-8.3m4-3.1v7.4m1 1.6v-7.3m1 3.4v8.3m1-2.4v-8.7m2-4v8.9m1-2.7v-6.7m1 1v8.3m1 .1v-9m1 8.5v8.3m1-2.6v-7.5m1 3.3v5.6m1-3.2v-5.4m1-2.4v6.9m1 .5v-5.9m1-.2v4.4m1 .3v-8.1m1 4.8v5.7m1 2.1v-6.5m1-5.6v9.9m1-1.5v-7.7m1-3.7v10m1 1.8v-9.9m2 4.5v5.5m1-2.6v-5.7m1 1v8.3m1 4v-9.7m1-1.6v8.6m1-.7v-8.1m1 .5v6.5m1-.3v-7.6m1-2v7.3m1 .1v-8.1m1-2.5v8m1-1v-5.6m1-2.9v9.7m9-7v-7.8m1-5.6v9.3m4 4.4v-9.7m37 8.7v8.3m1 4.6v-9.6m4-2.7v8.5m1 .4v-8.4m1 4.4v9.1m1 .2v-7m1-.9v5.8m1-1.6v-7.1m1 2.9v7.3m1-1.4v-7.6m1 4.5v7"/>
<path stroke="#6da56c" stroke-linecap="butt" stroke-width="1.0" stroke-dasharray="1.2 .9 .8 1.3 1.6 .8 .9 1.5 1.1 1" d="M47.5 440.8v-10.1m5-3.6v10.9m7-1.2v-10.8m9 1.3v10.5m2 2.6v-12.1m2-.8v15m11-4.4v-12.5m1 .6v10.9m2 .6v-10.8m1-.3v10.7m1-2.6v-11.1m2-4.7v10.1m1 1.6v-15m1-.1v13.7m1 1.6v-12.9m3-4.3v11.4m1-3.3v-16.3m1 2.6v11.9m1-3.3v-15m23-18.4v24.6m1 18.5v-18.3m1-6.1v14.2m1 10.6v-10.9m1-4.5v11.5m1 2.1v-11.7m7 6.3v10.4m3 3v-10.4m36 2.3v11.6m12 2.2v-11.1m1-2.1v10.5m1-.4v-11.2m3 1.6v11.6m1-5.5v-10.5m1 3.9v10.6m2-.3v-11.9m1-3.2v13.4m1-4.6v-11.5m1 .4v10.3m2-1.7v-10.8m2-16.5v17.4m1 4.3v-14.8m1-8.8v14.5m1-.1v-19.6m24 10.7v15.5m1-7.6v-18.8m1 12.8v13.5m1 5v-15.8m1 6.4v17.4m1-4.2v-14m1 1.9v16.2m1 3.5v-15.5m1 2.5v14.7m1-7.5v-12.2m2 1v11.2m14 8.2v-10.6m42 1.1v11.5m1 3.2v-12.3m1-1v10.3m5-5.1v-12.9m1-6.2v13.3m1 2.3v-12.8m1-7v16m1-1.6v-15.6m1-9.6v16m1 2.1v-12.5m1-.4v12.8m1-4.3v-15.9m1-8.8v24.9m1-1.9v-24.2m23 25.4v12.6m3 1.3v-12.8m1-1v11.9m1 7.1v-13.9m1-2.9v11.2m1 7v-11.7m1 5.3v12.5m2-3.6v-10.7m1-1v11.5m2 1.6v-11.9m14-1.2v12.6m1 1.9v-12.1m2 3.3v11.3m11-3.8v-10.4m1 .7v11m1 1.8v-10.9m1 1.2v11m25-3.5v-11.8m1 2v13m1-5.4v-13.7m1-7.1v14.2m1 4.3v-14.5m1-4.5v13.2m1-.4v-11.6m1-5v14.7m1-3.6v-16.5m1 1.6v14.2m1-4.7v-13.5m1 5.8v11.3m2-7.6v-11.9m1-6.4v11.9m24 9.7v-28.4m1 4.7v17m1 17.6v-24.4m1 4.8v17.7m1-2.6v-10.9m1 .3v15.7m2 8.5v-11.6m11-.3v10.7m15 6.8v-11.5m1-4.6v11.6m21 2.7v-10.4m3-.9v11.2m11-1.8v-12.2m1-3.9v10.5m1-2.4v-14.8m1 5.7v10.5m1 1.2v-12.9m6-8.1v12.6m1-.1v-20.1m1-6.6v14.9m1 8.2v-12.1m1-8.9v16.7m1 3.6v-15m23 1.5v15.6m1 1.2v-25.9m1 5.4v19.5m1 7v-18.5m1 5.7v18.1m1-.8v-15m1-1.2v14.1m8 5.9v-10.7m1-1v10.4m1 5.1v-10.5m9-1.9v11.6m1-2.6v-12.7m1 2.1v10.9m5 1.7v-11m19-.8v10.2m14-5.7v-10m1 4v10.3m1-.2v-12.1m1-.9v13.5m1-2.3v-13.9m1 1.4v13.5m1-2.6v-14.5m1 3.4v10.7m3-9.1v-15.5m1 3.2v17.1m1-9.7v-12m2 1.9v11m1 1.8v-19.7m1-4.3v18.8m1 6.8v-20.3m1-7.9v22.8m1 1v-23.9m23-.4v30m1-5.5v-16.7m1-1.7v20.5m1-3.5v-15.4m1 4.8v17.1m1 8.8v-20.4m1 4.2v10.5m1 .6v-10.1m3 6.7v11.6m1-3.8v-10m1 2.1v11.1"/>
<path stroke="#6da56c" d="M122.3 368h0m.1 16.3h0m0 8.8h0m0-16.6h0m106.5 8.7h0m.4 14.7h0m106.7-1.3h0m0 9.6h0m320.2-7.9h0m.2-15.7h0"/>
</g>
<g font-family='"Liberation Sans", sans-serif' font-size="10.8" fill="#262626" text-anchor="end">
<text x="33" y="452.4">0</text>
<text x="33" y="441.7">0.2</text>
<text x="33" y="430.9">0.4</text>
<text x="33" y="420.2">0.6</text>
<text x="33" y="409.5">0.8</text>
<text x="33" y="398.7">1</text>
<text x="33" y="388.0">1.2</text>
<text x="33" y="377.3">1.4</text>
<text x="33" y="366.5">1.6</text>
<text x="33" y="355.8">1.8</text>
<text x="33" y="345.1">2</text>
</g>
<g font-family='"Liberation Sans", sans-serif' font-size="10.8" fill="#262626" text-anchor="middle">
<text x="36.7" y="463.4">93</text>
<text x="143.7" y="463.4">94</text>
<text x="250.7" y="463.4">95</text>
<text x="357.7" y="463.4">96</text>
<text x="464.7" y="463.4">97</text>
<text x="571.7" y="463.4">98</text>
<text x="678.7" y="463.4">99</text>
</g>
<text font-family='"Liberation Sans", sans-serif' font-size="13.4" fill="#262626" text-anchor="middle" x="357.8" y="480.0">Day of Year/(day)</text>
<text font-family='"Liberation Sans", sans-serif' font-size="13.4" fill="#262626" text-anchor="middle" transform="translate(11.2 392.8) rotate(-90)">(C40) Error/(m)</text>
<text font-family='"Liberation Sans", sans-serif' font-size="13.4" fill="#262626" text-anchor="middle" x="357.4" y="17.5">Pseudorange Multipath Error</text>
<rect x="456.5" y="0.5" width="224" height="20.8" fill="#fff" stroke="#5c5c5c" stroke-width="1"/>
<circle cx="478.1" cy="11.2" r="4" fill="#d9a01f"/>
<text font-family='"Liberation Sans", sans-serif' font-size="13.4" fill="#262626" x="499.4" y="16.4" letter-spacing="-0.4">MP1</text>
<circle cx="553.6" cy="11.2" r="4" fill="#1d4fc2"/>
<text font-family='"Liberation Sans", sans-serif' font-size="13.4" fill="#262626" x="574.6" y="16.4" letter-spacing="-0.4">MP2</text>
<circle cx="627.9" cy="11.2" r="4" fill="#6da56c"/>
<text font-family='"Liberation Sans", sans-serif' font-size="13.4" fill="#262626" x="649.6" y="16.4" letter-spacing="-0.4">MP3</text>
</svg>
</body></html>
